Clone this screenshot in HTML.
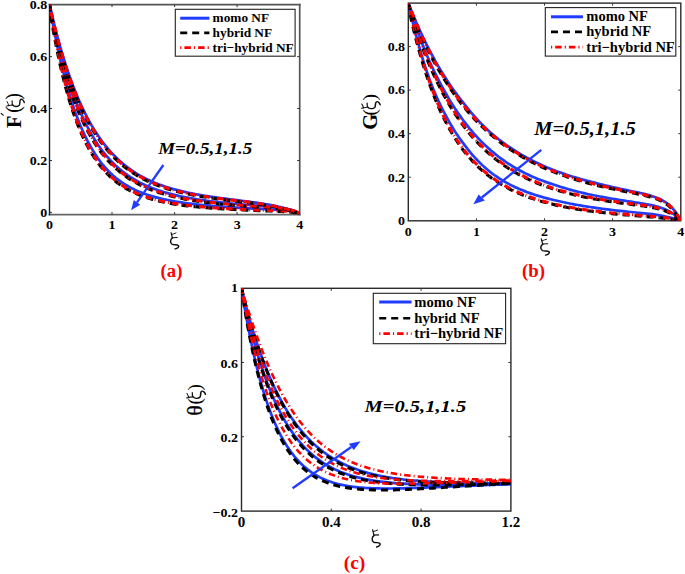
<!DOCTYPE html>
<html><head><meta charset="utf-8"><title>Figure</title>
<style>
html,body{margin:0;padding:0;background:#fff;}
body{width:685px;height:574px;overflow:hidden;}
svg{display:block;font-family:"Liberation Serif",serif;}
</style></head>
<body>
<svg width="685" height="574" viewBox="0 0 685 574">
<rect width="685" height="574" fill="#fff"/>
<g>
<defs>
<clipPath id="clipa"><rect x="49.5" y="4.5" width="250.2" height="210"/></clipPath>
<clipPath id="clipb"><rect x="408.3" y="3.1" width="272.5" height="217.7"/></clipPath>
<clipPath id="clipc"><rect x="241.5" y="288.3" width="269.4" height="222.8"/></clipPath>
</defs>
<line x1="49.5" y1="4.6" x2="299.7" y2="4.6" stroke="#555" stroke-width="1.7" stroke-linecap="square"/>
<line x1="299.7" y1="4.6" x2="299.7" y2="214.6" stroke="#555" stroke-width="1.7" stroke-linecap="square"/>
<line x1="49.5" y1="214.6" x2="299.7" y2="214.6" stroke="#666" stroke-width="1.8" stroke-linecap="square"/>
<line x1="49.5" y1="4.6" x2="49.5" y2="214.6" stroke="#1a1a1a" stroke-width="1.4" stroke-linecap="square"/>
<line x1="112.0" y1="214.6" x2="112.0" y2="212.1" stroke="#333" stroke-width="1"/>
<line x1="112.0" y1="4.6" x2="112.0" y2="7.1" stroke="#333" stroke-width="1"/>
<line x1="174.6" y1="214.6" x2="174.6" y2="212.1" stroke="#333" stroke-width="1"/>
<line x1="174.6" y1="4.6" x2="174.6" y2="7.1" stroke="#333" stroke-width="1"/>
<line x1="237.1" y1="214.6" x2="237.1" y2="212.1" stroke="#333" stroke-width="1"/>
<line x1="237.1" y1="4.6" x2="237.1" y2="7.1" stroke="#333" stroke-width="1"/>
<line x1="49.5" y1="212.4" x2="52.0" y2="212.4" stroke="#333" stroke-width="1"/>
<line x1="299.7" y1="212.4" x2="297.2" y2="212.4" stroke="#333" stroke-width="1"/>
<line x1="49.5" y1="160.5" x2="52.0" y2="160.5" stroke="#333" stroke-width="1"/>
<line x1="299.7" y1="160.5" x2="297.2" y2="160.5" stroke="#333" stroke-width="1"/>
<line x1="49.5" y1="108.5" x2="52.0" y2="108.5" stroke="#333" stroke-width="1"/>
<line x1="299.7" y1="108.5" x2="297.2" y2="108.5" stroke="#333" stroke-width="1"/>
<line x1="49.5" y1="56.6" x2="52.0" y2="56.6" stroke="#333" stroke-width="1"/>
<line x1="299.7" y1="56.6" x2="297.2" y2="56.6" stroke="#333" stroke-width="1"/>

<g clip-path="url(#clipa)">
<path d="M49.50 4.30 L49.55 4.59 L49.66 5.24 L49.81 6.17 L50.01 7.34 L50.24 8.72 L50.51 10.30 L50.82 12.06 L51.15 13.99 L51.52 16.08 L51.91 18.30 L52.34 20.66 L52.79 23.14 L53.27 25.73 L53.77 28.42 L54.31 31.21 L54.86 34.08 L55.44 37.03 L56.05 40.05 L56.68 43.13 L57.34 46.26 L58.01 49.44 L58.71 52.65 L59.44 55.90 L60.18 59.18 L60.95 62.47 L61.74 65.78 L62.55 69.10 L63.38 72.42 L64.23 75.73 L65.10 79.04 L65.99 82.34 L66.91 85.62 L67.84 88.87 L68.79 92.11 L69.76 95.31 L70.72 98.49 L71.71 101.63 L72.72 104.74 L73.74 107.80 L74.78 110.82 L75.84 113.79 L76.92 116.71 L78.01 119.58 L79.13 122.40 L80.26 125.16 L81.40 127.87 L82.56 130.53 L83.74 133.12 L84.94 135.65 L86.15 138.13 L87.38 140.54 L88.62 142.89 L89.86 145.20 L91.10 147.45 L92.37 149.63 L93.64 151.75 L94.93 153.82 L96.24 155.82 L97.56 157.77 L98.90 159.65 L100.25 161.48 L101.61 163.25 L102.99 164.97 L104.38 166.62 L105.79 168.23 L107.21 169.77 L108.64 171.27 L110.09 172.71 L111.55 174.10 L113.03 175.45 L114.52 176.74 L116.02 177.99 L117.53 179.19 L119.06 180.35 L120.61 181.46 L122.17 182.53 L123.74 183.56 L125.32 184.55 L126.91 185.52 L128.51 186.46 L130.13 187.36 L131.76 188.24 L133.40 189.07 L135.06 189.88 L136.74 190.65 L138.43 191.40 L140.14 192.11 L141.86 192.80 L143.59 193.46 L145.35 194.10 L147.11 194.71 L148.90 195.30 L150.70 195.86 L152.51 196.40 L154.34 196.92 L156.18 197.42 L158.04 197.90 L159.91 198.36 L161.80 198.81 L163.70 199.23 L165.62 199.64 L167.55 200.03 L169.50 200.41 L171.46 200.77 L173.43 201.12 L175.42 201.46 L177.42 201.79 L179.44 202.12 L181.47 202.43 L183.52 202.73 L185.57 203.02 L187.65 203.30 L189.73 203.57 L191.83 203.83 L193.95 204.08 L196.07 204.32 L198.22 204.56 L200.37 204.79 L202.54 205.01 L204.72 205.22 L206.91 205.43 L209.12 205.63 L211.34 205.82 L213.58 206.01 L215.83 206.19 L218.09 206.37 L220.36 206.54 L222.65 206.71 L224.95 206.87 L227.26 207.03 L229.58 207.19 L231.92 207.34 L234.27 207.49 L236.63 207.63 L239.01 207.77 L241.40 207.91 L243.80 208.05 L246.21 208.18 L248.64 208.31 L251.08 208.44 L253.53 208.57 L255.99 208.69 L258.46 208.82 L260.95 208.94 L263.45 209.06 L265.97 209.18 L268.49 209.30 L271.03 209.42 L273.58 209.55 L276.14 209.72 L278.71 209.93 L281.30 210.15 L283.90 210.40 L286.51 210.67 L289.13 211.00 L291.77 211.38 L294.41 211.87 L297.05 212.49 L299.70 213.30" stroke="#1f3cff" stroke-width="2.70" fill="none"/>
<path d="M49.50 4.30 L49.55 4.54 L49.65 5.07 L49.80 5.84 L50.00 6.80 L50.23 7.94 L50.49 9.25 L50.79 10.70 L51.11 12.30 L51.47 14.03 L51.86 15.88 L52.27 17.84 L52.72 19.91 L53.18 22.08 L53.68 24.34 L54.20 26.68 L54.74 29.10 L55.31 31.60 L55.90 34.15 L56.52 36.77 L57.16 39.44 L57.82 42.16 L58.51 44.93 L59.21 47.73 L59.94 50.56 L60.69 53.42 L61.46 56.31 L62.26 59.21 L63.07 62.13 L63.90 65.05 L64.75 67.99 L65.63 70.92 L66.52 73.85 L67.43 76.78 L68.37 79.70 L69.31 82.61 L70.27 85.51 L71.24 88.38 L72.24 91.24 L73.25 94.08 L74.28 96.88 L75.33 99.67 L76.39 102.42 L77.47 105.13 L78.57 107.82 L79.69 110.46 L80.83 113.07 L81.98 115.64 L83.15 118.17 L84.33 120.66 L85.53 123.11 L86.75 125.51 L87.98 127.87 L89.22 130.19 L90.47 132.46 L91.73 134.69 L93.01 136.87 L94.31 139.01 L95.62 141.09 L96.95 143.13 L98.29 145.13 L99.64 147.07 L101.02 148.97 L102.40 150.82 L103.81 152.62 L105.22 154.38 L106.65 156.09 L108.10 157.76 L109.56 159.38 L111.03 160.95 L112.52 162.48 L114.03 163.97 L115.54 165.41 L117.08 166.81 L118.62 168.17 L120.18 169.49 L121.76 170.77 L123.35 172.01 L124.95 173.21 L126.56 174.38 L128.18 175.53 L129.81 176.63 L131.46 177.70 L133.13 178.74 L134.81 179.74 L136.50 180.72 L138.21 181.66 L139.93 182.57 L141.67 183.45 L143.42 184.30 L145.18 185.12 L146.96 185.92 L148.76 186.69 L150.57 187.43 L152.39 188.15 L154.23 188.85 L156.08 189.52 L157.95 190.17 L159.83 190.80 L161.72 191.40 L163.63 191.99 L165.56 192.55 L167.50 193.10 L169.45 193.63 L171.41 194.14 L173.39 194.63 L175.39 195.11 L177.39 195.58 L179.41 196.03 L181.45 196.47 L183.49 196.89 L185.55 197.30 L187.63 197.70 L189.72 198.08 L191.82 198.45 L193.94 198.81 L196.06 199.16 L198.21 199.50 L200.36 199.82 L202.53 200.14 L204.71 200.45 L206.91 200.75 L209.12 201.04 L211.34 201.32 L213.58 201.59 L215.82 201.85 L218.09 202.11 L220.36 202.36 L222.65 202.60 L224.95 202.84 L227.26 203.07 L229.58 203.29 L231.92 203.51 L234.27 203.73 L236.64 203.93 L239.01 204.14 L241.40 204.34 L243.80 204.54 L246.21 204.73 L248.64 204.92 L251.08 205.11 L253.53 205.30 L255.99 205.48 L258.47 205.66 L260.96 205.85 L263.46 206.04 L265.97 206.23 L268.50 206.43 L271.04 206.65 L273.59 206.87 L276.16 207.15 L278.73 207.47 L281.32 207.82 L283.92 208.23 L286.53 208.72 L289.15 209.29 L291.78 209.99 L294.41 210.85 L297.06 211.93 L299.70 213.30" stroke="#1f3cff" stroke-width="2.70" fill="none"/>
<path d="M49.50 4.30 L49.55 4.51 L49.65 4.97 L49.80 5.64 L49.99 6.48 L50.21 7.47 L50.47 8.62 L50.77 9.89 L51.09 11.29 L51.44 12.80 L51.82 14.42 L52.23 16.15 L52.67 17.97 L53.13 19.88 L53.61 21.87 L54.13 23.94 L54.66 26.09 L55.22 28.30 L55.81 30.58 L56.41 32.91 L57.04 35.29 L57.70 37.73 L58.37 40.21 L59.07 42.73 L59.78 45.28 L60.52 47.87 L61.28 50.48 L62.06 53.12 L62.86 55.77 L63.69 58.45 L64.53 61.13 L65.39 63.83 L66.27 66.53 L67.17 69.24 L68.09 71.94 L69.02 74.65 L69.97 77.35 L70.94 80.04 L71.92 82.73 L72.92 85.40 L73.95 88.05 L74.99 90.69 L76.04 93.31 L77.12 95.90 L78.21 98.48 L79.32 101.02 L80.44 103.54 L81.59 106.04 L82.75 108.50 L83.93 110.93 L85.12 113.33 L86.33 115.69 L87.56 118.02 L88.79 120.32 L90.04 122.59 L91.30 124.81 L92.59 127.00 L93.88 129.15 L95.20 131.26 L96.52 133.33 L97.87 135.36 L99.23 137.36 L100.60 139.31 L101.99 141.22 L103.40 143.09 L104.82 144.91 L106.25 146.70 L107.70 148.45 L109.17 150.15 L110.65 151.82 L112.14 153.44 L113.65 155.03 L115.17 156.57 L116.71 158.08 L118.26 159.54 L119.83 160.97 L121.41 162.36 L123.01 163.71 L124.62 165.03 L126.24 166.31 L127.87 167.56 L129.52 168.78 L131.18 169.96 L132.85 171.11 L134.54 172.22 L136.25 173.30 L137.96 174.35 L139.70 175.36 L141.44 176.35 L143.20 177.31 L144.98 178.23 L146.77 179.13 L148.57 180.00 L150.39 180.84 L152.22 181.66 L154.07 182.45 L155.93 183.21 L157.80 183.95 L159.69 184.67 L161.59 185.36 L163.51 186.03 L165.44 186.68 L167.38 187.30 L169.34 187.91 L171.31 188.50 L173.29 189.06 L175.29 189.61 L177.30 190.15 L179.33 190.66 L181.37 191.17 L183.42 191.65 L185.48 192.12 L187.56 192.57 L189.65 193.02 L191.76 193.44 L193.88 193.86 L196.01 194.26 L198.16 194.65 L200.32 195.03 L202.49 195.40 L204.67 195.76 L206.87 196.11 L209.08 196.45 L211.31 196.78 L213.55 197.11 L215.80 197.43 L218.06 197.74 L220.34 198.05 L222.63 198.36 L224.93 198.66 L227.24 198.96 L229.57 199.25 L231.91 199.55 L234.26 199.84 L236.63 200.14 L239.01 200.44 L241.40 200.74 L243.80 201.04 L246.22 201.35 L248.65 201.67 L251.09 201.99 L253.54 202.33 L256.01 202.67 L258.48 203.03 L260.97 203.41 L263.48 203.80 L265.99 204.21 L268.52 204.64 L271.06 205.10 L273.61 205.59 L276.17 206.13 L278.74 206.71 L281.32 207.33 L283.92 208.00 L286.52 208.72 L289.14 209.49 L291.76 210.33 L294.40 211.24 L297.04 212.23 L299.70 213.30" stroke="#1f3cff" stroke-width="2.70" fill="none"/>
<path d="M49.50 4.30 L49.50 4.60 L49.55 5.26 L49.64 6.19 L49.78 7.37 L49.95 8.77 L50.15 10.36 L50.39 12.13 L50.66 14.07 L50.95 16.17 L51.27 18.41 L51.62 20.78 L52.00 23.28 L52.45 25.87 L52.93 28.57 L53.43 31.37 L53.96 34.25 L54.50 37.21 L55.07 40.24 L55.67 43.32 L56.28 46.47 L56.92 49.66 L57.58 52.89 L58.26 56.15 L58.97 59.44 L59.69 62.75 L60.43 66.08 L61.20 69.41 L61.98 72.75 L62.78 76.08 L63.61 79.41 L64.45 82.73 L65.31 86.04 L66.19 89.32 L67.10 92.58 L68.01 95.81 L68.95 99.02 L69.91 102.18 L70.88 105.31 L71.88 108.41 L72.89 111.45 L73.92 114.46 L74.96 117.41 L76.03 120.32 L77.11 123.18 L78.21 125.98 L79.33 128.73 L80.46 131.43 L81.61 134.07 L82.78 136.65 L83.97 139.17 L85.17 141.64 L86.39 144.05 L87.62 146.40 L88.88 148.69 L90.15 150.92 L91.43 153.09 L92.73 155.20 L94.05 157.26 L95.39 159.25 L96.74 161.19 L98.11 163.07 L99.49 164.90 L100.89 166.67 L102.30 168.38 L103.73 170.04 L105.18 171.64 L106.64 173.19 L108.12 174.69 L109.61 176.14 L111.12 177.55 L112.65 178.90 L114.19 180.20 L115.74 181.46 L117.31 182.67 L118.89 183.84 L120.49 184.96 L122.11 186.05 L123.74 187.09 L125.38 188.09 L127.04 189.06 L128.71 189.98 L130.39 190.88 L132.10 191.73 L133.81 192.55 L135.54 193.34 L137.28 194.10 L139.04 194.83 L140.81 195.53 L142.59 196.20 L144.39 196.84 L146.20 197.46 L148.03 198.05 L149.87 198.62 L151.72 199.16 L153.58 199.68 L155.46 200.18 L157.36 200.66 L159.26 201.12 L161.18 201.56 L163.11 201.98 L165.06 202.39 L167.02 202.78 L168.99 203.15 L170.98 203.51 L172.98 203.85 L174.99 204.18 L177.01 204.49 L179.05 204.80 L181.10 205.09 L183.17 205.37 L185.24 205.63 L187.33 205.89 L189.44 206.14 L191.55 206.38 L193.68 206.61 L195.82 206.83 L197.98 207.04 L200.14 207.24 L202.32 207.44 L204.52 207.63 L206.72 207.81 L208.94 207.98 L211.17 208.15 L213.41 208.32 L215.67 208.47 L217.94 208.63 L220.22 208.77 L222.51 208.91 L224.82 209.05 L227.14 209.18 L229.47 209.31 L231.81 209.44 L234.17 209.56 L236.54 209.67 L238.92 209.79 L241.31 209.90 L243.71 210.00 L246.13 210.11 L248.56 210.21 L251.00 210.30 L253.46 210.40 L255.92 210.49 L258.40 210.58 L260.89 210.67 L263.39 210.76 L265.91 210.85 L268.43 210.94 L270.97 211.03 L273.52 211.12 L276.08 211.22 L278.65 211.33 L281.23 211.46 L283.83 211.60 L286.43 211.78 L289.04 212.00 L291.65 212.28 L294.27 212.66 L296.90 213.17 L299.54 213.88" stroke="#000000" stroke-width="3.10" fill="none" stroke-dasharray="7 5" stroke-dashoffset="0"/>
<path d="M49.50 4.30 L49.55 4.59 L49.65 5.24 L49.79 6.17 L49.98 7.34 L50.20 8.73 L50.45 10.31 L50.74 12.08 L51.05 14.01 L51.40 16.10 L51.77 18.33 L52.17 20.69 L52.59 23.17 L53.04 25.77 L53.52 28.47 L54.02 31.26 L54.55 34.14 L55.09 37.10 L55.66 40.12 L56.26 43.21 L56.87 46.35 L57.51 49.54 L58.17 52.77 L58.85 56.03 L59.55 59.31 L60.27 62.62 L61.02 65.94 L61.78 69.27 L62.56 72.61 L63.37 75.94 L64.19 79.27 L65.03 82.58 L65.89 85.88 L66.77 89.16 L67.67 92.42 L68.59 95.65 L69.53 98.85 L70.48 102.01 L71.46 105.13 L72.45 108.22 L73.46 111.26 L74.48 114.26 L75.53 117.21 L76.59 120.11 L77.67 122.96 L78.77 125.76 L79.88 128.50 L81.01 131.19 L82.16 133.82 L83.33 136.40 L84.51 138.91 L85.71 141.37 L86.92 143.77 L88.15 146.11 L89.40 148.40 L90.67 150.62 L91.95 152.78 L93.24 154.88 L94.55 156.93 L95.88 158.92 L97.23 160.84 L98.59 162.71 L99.96 164.53 L101.36 166.29 L102.76 167.99 L104.18 169.64 L105.62 171.24 L107.08 172.78 L108.54 174.27 L110.03 175.71 L111.53 177.10 L113.04 178.44 L114.57 179.74 L116.11 180.99 L117.67 182.19 L119.25 183.35 L120.83 184.47 L122.44 185.55 L124.05 186.58 L125.69 187.58 L127.33 188.54 L128.99 189.46 L130.67 190.34 L132.36 191.19 L134.06 192.01 L135.78 192.80 L137.52 193.55 L139.26 194.27 L141.02 194.97 L142.80 195.63 L144.59 196.27 L146.39 196.89 L148.21 197.48 L150.04 198.04 L151.88 198.58 L153.74 199.10 L155.61 199.60 L157.50 200.08 L159.40 200.54 L161.31 200.98 L163.24 201.40 L165.18 201.80 L167.13 202.19 L169.10 202.56 L171.08 202.92 L173.08 203.26 L175.08 203.59 L177.10 203.90 L179.14 204.20 L181.19 204.49 L183.25 204.77 L185.32 205.04 L187.41 205.30 L189.51 205.54 L191.62 205.78 L193.74 206.01 L195.88 206.23 L198.03 206.44 L200.20 206.64 L202.38 206.84 L204.57 207.03 L206.77 207.21 L208.99 207.39 L211.22 207.55 L213.46 207.72 L215.71 207.87 L217.98 208.03 L220.26 208.17 L222.55 208.31 L224.85 208.45 L227.17 208.58 L229.50 208.71 L231.84 208.84 L234.20 208.96 L236.56 209.07 L238.94 209.19 L241.34 209.30 L243.74 209.40 L246.16 209.51 L248.58 209.61 L251.03 209.70 L253.48 209.80 L255.94 209.89 L258.42 209.98 L260.91 210.07 L263.41 210.16 L265.93 210.25 L268.45 210.34 L270.99 210.43 L273.54 210.52 L276.10 210.63 L278.68 210.73 L281.26 210.86 L283.86 211.00 L286.47 211.18 L289.09 211.40 L291.73 211.69 L294.37 212.07 L297.03 212.59 L299.70 213.30" stroke="#ff0000" stroke-width="3.10" fill="none" stroke-dasharray="6.5 3 1 3.1" stroke-dashoffset="5"/>
<path d="M49.50 4.30 L49.50 4.55 L49.55 5.09 L49.64 5.87 L49.78 6.84 L49.95 7.99 L50.16 9.31 L50.39 10.78 L50.66 12.39 L50.95 14.13 L51.28 16.00 L51.63 17.98 L52.01 20.06 L52.46 22.23 L52.93 24.50 L53.43 26.85 L53.96 29.27 L54.51 31.77 L55.08 34.34 L55.67 36.97 L56.29 39.65 L56.93 42.38 L57.59 45.15 L58.27 47.96 L58.97 50.80 L59.69 53.68 L60.44 56.57 L61.20 59.49 L61.98 62.42 L62.79 65.36 L63.61 68.31 L64.46 71.26 L65.32 74.21 L66.20 77.16 L67.10 80.09 L68.02 83.02 L68.96 85.93 L69.91 88.83 L70.89 91.71 L71.88 94.56 L72.89 97.39 L73.92 100.19 L74.97 102.96 L76.03 105.70 L77.11 108.41 L78.21 111.08 L79.33 113.72 L80.46 116.32 L81.61 118.87 L82.78 121.39 L83.97 123.87 L85.17 126.30 L86.39 128.69 L87.62 131.04 L88.88 133.34 L90.14 135.60 L91.43 137.81 L92.73 139.97 L94.05 142.09 L95.38 144.16 L96.73 146.18 L98.10 148.16 L99.48 150.09 L100.88 151.97 L102.29 153.81 L103.72 155.60 L105.16 157.35 L106.62 159.05 L108.10 160.70 L109.59 162.31 L111.10 163.88 L112.62 165.40 L114.16 166.88 L115.71 168.32 L117.28 169.71 L118.86 171.07 L120.46 172.38 L122.07 173.66 L123.70 174.89 L125.34 176.09 L126.99 177.25 L128.66 178.37 L130.35 179.46 L132.05 180.52 L133.76 181.53 L135.49 182.52 L137.23 183.47 L138.99 184.40 L140.76 185.29 L142.54 186.15 L144.34 186.98 L146.15 187.79 L147.98 188.56 L149.82 189.31 L151.67 190.04 L153.54 190.74 L155.41 191.41 L157.31 192.07 L159.22 192.70 L161.14 193.30 L163.07 193.89 L165.02 194.46 L166.98 195.00 L168.95 195.53 L170.94 196.04 L172.94 196.53 L174.95 197.00 L176.97 197.46 L179.01 197.90 L181.07 198.33 L183.13 198.74 L185.21 199.14 L187.30 199.52 L189.40 199.90 L191.52 200.25 L193.65 200.60 L195.79 200.94 L197.95 201.26 L200.12 201.57 L202.30 201.87 L204.49 202.17 L206.70 202.45 L208.91 202.73 L211.15 202.99 L213.39 203.25 L215.65 203.50 L217.92 203.74 L220.20 203.97 L222.49 204.20 L224.80 204.42 L227.12 204.64 L229.45 204.84 L231.79 205.05 L234.15 205.24 L236.52 205.43 L238.90 205.62 L241.29 205.80 L243.70 205.98 L246.11 206.16 L248.54 206.33 L250.98 206.49 L253.44 206.66 L255.90 206.83 L258.38 206.99 L260.87 207.16 L263.37 207.33 L265.89 207.50 L268.41 207.68 L270.94 207.87 L273.49 208.08 L276.05 208.31 L278.61 208.56 L281.19 208.86 L283.77 209.20 L286.37 209.62 L288.97 210.13 L291.57 210.75 L294.18 211.54 L296.79 212.54 L299.44 213.84" stroke="#000000" stroke-width="3.10" fill="none" stroke-dasharray="7 5" stroke-dashoffset="0"/>
<path d="M49.50 4.30 L49.55 4.54 L49.65 5.07 L49.79 5.84 L49.98 6.80 L50.20 7.95 L50.45 9.25 L50.74 10.71 L51.05 12.31 L51.40 14.04 L51.77 15.90 L52.17 17.86 L52.59 19.94 L53.04 22.11 L53.52 24.37 L54.02 26.72 L54.55 29.15 L55.09 31.64 L55.66 34.21 L56.26 36.83 L56.87 39.51 L57.51 42.24 L58.17 45.01 L58.85 47.82 L59.55 50.66 L60.27 53.53 L61.02 56.42 L61.78 59.34 L62.56 62.26 L63.37 65.20 L64.19 68.15 L65.03 71.09 L65.89 74.04 L66.77 76.98 L67.67 79.92 L68.59 82.84 L69.53 85.75 L70.48 88.64 L71.46 91.51 L72.45 94.36 L73.46 97.18 L74.48 99.98 L75.53 102.75 L76.59 105.48 L77.67 108.18 L78.77 110.85 L79.88 113.48 L81.01 116.07 L82.16 118.63 L83.33 121.14 L84.51 123.61 L85.71 126.03 L86.92 128.42 L88.15 130.76 L89.40 133.05 L90.67 135.30 L91.95 137.50 L93.24 139.66 L94.55 141.77 L95.88 143.83 L97.23 145.85 L98.59 147.81 L99.96 149.74 L101.36 151.61 L102.76 153.44 L104.18 155.22 L105.62 156.96 L107.08 158.65 L108.54 160.30 L110.03 161.90 L111.53 163.46 L113.04 164.97 L114.57 166.44 L116.11 167.87 L117.67 169.26 L119.25 170.61 L120.83 171.91 L122.44 173.18 L124.05 174.41 L125.69 175.60 L127.33 176.76 L128.99 177.87 L130.67 178.95 L132.36 180.00 L134.06 181.02 L135.78 182.00 L137.52 182.95 L139.26 183.86 L141.02 184.75 L142.80 185.61 L144.59 186.44 L146.39 187.24 L148.21 188.01 L150.04 188.76 L151.88 189.48 L153.74 190.17 L155.61 190.85 L157.50 191.50 L159.40 192.12 L161.31 192.73 L163.24 193.31 L165.18 193.88 L167.13 194.42 L169.10 194.95 L171.08 195.46 L173.08 195.95 L175.08 196.42 L177.10 196.88 L179.14 197.32 L181.19 197.74 L183.25 198.15 L185.32 198.55 L187.41 198.93 L189.51 199.30 L191.62 199.66 L193.74 200.01 L195.88 200.34 L198.03 200.67 L200.20 200.98 L202.38 201.28 L204.57 201.57 L206.77 201.86 L208.99 202.13 L211.22 202.40 L213.46 202.65 L215.71 202.90 L217.98 203.14 L220.26 203.38 L222.55 203.60 L224.85 203.82 L227.17 204.04 L229.50 204.25 L231.84 204.45 L234.20 204.64 L236.56 204.84 L238.94 205.02 L241.34 205.20 L243.74 205.38 L246.16 205.56 L248.58 205.73 L251.03 205.90 L253.48 206.06 L255.94 206.23 L258.42 206.39 L260.91 206.56 L263.41 206.73 L265.93 206.90 L268.45 207.08 L270.99 207.27 L273.54 207.48 L276.10 207.71 L278.68 207.97 L281.26 208.26 L283.86 208.61 L286.47 209.03 L289.09 209.54 L291.73 210.17 L294.37 210.97 L297.03 211.99 L299.70 213.30" stroke="#ff0000" stroke-width="3.10" fill="none" stroke-dasharray="6.5 3 1 3.1" stroke-dashoffset="5"/>
<path d="M49.50 4.30 L49.50 4.52 L49.55 5.00 L49.65 5.67 L49.78 6.52 L49.95 7.53 L50.16 8.69 L50.39 9.97 L50.66 11.38 L50.96 12.91 L51.28 14.55 L51.63 16.29 L52.01 18.12 L52.46 20.04 L52.94 22.03 L53.44 24.11 L53.96 26.26 L54.51 28.48 L55.08 30.76 L55.68 33.10 L56.29 35.49 L56.93 37.93 L57.59 40.42 L58.27 42.94 L58.97 45.50 L59.70 48.10 L60.44 50.72 L61.20 53.37 L61.99 56.03 L62.79 58.72 L63.62 61.41 L64.46 64.12 L65.32 66.84 L66.20 69.55 L67.10 72.27 L68.02 74.99 L68.96 77.70 L69.92 80.41 L70.89 83.10 L71.88 85.79 L72.90 88.45 L73.92 91.11 L74.97 93.74 L76.04 96.35 L77.12 98.94 L78.22 101.50 L79.33 104.04 L80.47 106.55 L81.62 109.03 L82.79 111.48 L83.97 113.90 L85.17 116.29 L86.39 118.64 L87.63 120.95 L88.88 123.23 L90.14 125.48 L91.43 127.68 L92.73 129.85 L94.05 131.98 L95.38 134.07 L96.73 136.13 L98.09 138.14 L99.47 140.11 L100.87 142.04 L102.28 143.93 L103.71 145.78 L105.16 147.59 L106.62 149.36 L108.09 151.09 L109.58 152.77 L111.09 154.42 L112.61 156.03 L114.14 157.60 L115.70 159.13 L117.26 160.62 L118.84 162.07 L120.44 163.48 L122.05 164.86 L123.68 166.19 L125.32 167.49 L126.97 168.76 L128.64 169.99 L130.33 171.18 L132.03 172.34 L133.74 173.47 L135.47 174.56 L137.21 175.62 L138.96 176.64 L140.73 177.64 L142.52 178.60 L144.32 179.54 L146.13 180.44 L147.95 181.32 L149.79 182.17 L151.64 182.99 L153.51 183.78 L155.39 184.55 L157.28 185.30 L159.19 186.02 L161.11 186.71 L163.05 187.38 L164.99 188.03 L166.95 188.66 L168.93 189.27 L170.92 189.86 L172.92 190.42 L174.93 190.97 L176.96 191.50 L178.99 192.01 L181.05 192.51 L183.11 192.99 L185.19 193.45 L187.28 193.90 L189.39 194.33 L191.50 194.76 L193.63 195.16 L195.78 195.56 L197.93 195.94 L200.10 196.31 L202.28 196.67 L204.47 197.02 L206.68 197.37 L208.90 197.70 L211.13 198.02 L213.37 198.34 L215.63 198.65 L217.90 198.96 L220.18 199.26 L222.47 199.55 L224.78 199.84 L227.10 200.13 L229.43 200.42 L231.77 200.70 L234.13 200.99 L236.49 201.27 L238.87 201.56 L241.26 201.85 L243.67 202.14 L246.08 202.44 L248.51 202.75 L250.95 203.06 L253.40 203.38 L255.86 203.71 L258.34 204.06 L260.82 204.42 L263.32 204.80 L265.83 205.20 L268.35 205.62 L270.88 206.07 L273.43 206.54 L275.98 207.05 L278.55 207.59 L281.13 208.17 L283.72 208.80 L286.32 209.48 L288.93 210.21 L291.55 211.01 L294.18 211.88 L296.82 212.82 L299.48 213.86" stroke="#000000" stroke-width="3.10" fill="none" stroke-dasharray="7 5" stroke-dashoffset="0"/>
<path d="M49.50 4.30 L49.55 4.51 L49.65 4.97 L49.79 5.64 L49.98 6.48 L50.20 7.48 L50.45 8.62 L50.74 9.90 L51.05 11.30 L51.40 12.81 L51.77 14.44 L52.17 16.16 L52.59 17.99 L53.04 19.90 L53.52 21.90 L54.02 23.97 L54.55 26.12 L55.09 28.33 L55.66 30.61 L56.26 32.95 L56.87 35.34 L57.51 37.78 L58.17 40.26 L58.85 42.78 L59.55 45.34 L60.27 47.94 L61.02 50.55 L61.78 53.20 L62.56 55.86 L63.37 58.54 L64.19 61.24 L65.03 63.94 L65.89 66.65 L66.77 69.37 L67.67 72.08 L68.59 74.80 L69.53 77.50 L70.48 80.21 L71.46 82.90 L72.45 85.58 L73.46 88.24 L74.48 90.89 L75.53 93.51 L76.59 96.12 L77.67 98.70 L78.77 101.26 L79.88 103.80 L81.01 106.30 L82.16 108.78 L83.33 111.22 L84.51 113.63 L85.71 116.01 L86.92 118.36 L88.15 120.67 L89.40 122.94 L90.67 125.18 L91.95 127.38 L93.24 129.54 L94.55 131.66 L95.88 133.75 L97.23 135.79 L98.59 137.80 L99.96 139.76 L101.36 141.68 L102.76 143.57 L104.18 145.41 L105.62 147.21 L107.08 148.97 L108.54 150.69 L110.03 152.37 L111.53 154.01 L113.04 155.61 L114.57 157.17 L116.11 158.70 L117.67 160.18 L119.25 161.62 L120.83 163.03 L122.44 164.40 L124.05 165.73 L125.69 167.02 L127.33 168.28 L128.99 169.50 L130.67 170.69 L132.36 171.84 L134.06 172.96 L135.78 174.05 L137.52 175.10 L139.26 176.12 L141.02 177.11 L142.80 178.07 L144.59 179.00 L146.39 179.90 L148.21 180.78 L150.04 181.62 L151.88 182.44 L153.74 183.23 L155.61 184.00 L157.50 184.74 L159.40 185.45 L161.31 186.15 L163.24 186.82 L165.18 187.46 L167.13 188.09 L169.10 188.69 L171.08 189.28 L173.08 189.85 L175.08 190.39 L177.10 190.92 L179.14 191.43 L181.19 191.93 L183.25 192.40 L185.32 192.87 L187.41 193.31 L189.51 193.75 L191.62 194.17 L193.74 194.57 L195.88 194.97 L198.03 195.35 L200.20 195.72 L202.38 196.08 L204.57 196.43 L206.77 196.77 L208.99 197.10 L211.22 197.43 L213.46 197.75 L215.71 198.06 L217.98 198.36 L220.26 198.66 L222.55 198.96 L224.85 199.25 L227.17 199.54 L229.50 199.82 L231.84 200.11 L234.20 200.39 L236.56 200.68 L238.94 200.96 L241.34 201.25 L243.74 201.55 L246.16 201.84 L248.58 202.15 L251.03 202.46 L253.48 202.79 L255.94 203.12 L258.42 203.47 L260.91 203.83 L263.41 204.21 L265.93 204.61 L268.45 205.03 L270.99 205.47 L273.54 205.95 L276.10 206.46 L278.68 207.00 L281.26 207.59 L283.86 208.22 L286.47 208.90 L289.09 209.64 L291.73 210.44 L294.37 211.31 L297.03 212.26 L299.70 213.30" stroke="#ff0000" stroke-width="3.10" fill="none" stroke-dasharray="6.5 3 1 3.1" stroke-dashoffset="5"/>
</g>

<rect x="175.3" y="9.3" width="119.8" height="46.9" fill="#fff" stroke="#222" stroke-width="1.1"/>
<line x1="180.2" y1="18.2" x2="209.4" y2="18.2" stroke="#1f3cff" stroke-width="3"/>
<line x1="180.2" y1="32.9" x2="209.4" y2="32.9" stroke="#000000" stroke-width="2.6" stroke-dasharray="7 5"/>
<line x1="180.2" y1="47.6" x2="209.4" y2="47.6" stroke="#ff0000" stroke-width="2.6" stroke-dasharray="1.2 3 6.5 3"/>
<text x="212.6" y="22.2" font-size="13.3" font-weight="bold">momo NF</text>
<text x="212.6" y="36.9" font-size="13.3" font-weight="bold">hybrid NF</text>
<text x="212.6" y="51.6" font-size="13.3" font-weight="bold">tri−hybrid NF</text>

<text transform="translate(47.20 216.80) scale(1.050 1)" font-size="13.30" font-weight="bold" font-style="normal" text-anchor="end" fill="#000" >0</text>

<text transform="translate(47.20 164.86) scale(1.050 1)" font-size="13.30" font-weight="bold" font-style="normal" text-anchor="end" fill="#000" >0.2</text>

<text transform="translate(47.20 112.92) scale(1.050 1)" font-size="13.30" font-weight="bold" font-style="normal" text-anchor="end" fill="#000" >0.4</text>

<text transform="translate(47.20 60.98) scale(1.050 1)" font-size="13.30" font-weight="bold" font-style="normal" text-anchor="end" fill="#000" >0.6</text>

<text transform="translate(47.20 9.04) scale(1.050 1)" font-size="13.30" font-weight="bold" font-style="normal" text-anchor="end" fill="#000" >0.8</text>

<text transform="translate(49.50 228.90) scale(1.050 1)" font-size="13.30" font-weight="bold" font-style="normal" text-anchor="middle" fill="#000" >0</text>

<text transform="translate(112.05 228.90) scale(1.050 1)" font-size="13.30" font-weight="bold" font-style="normal" text-anchor="middle" fill="#000" >1</text>

<text transform="translate(174.60 228.90) scale(1.050 1)" font-size="13.30" font-weight="bold" font-style="normal" text-anchor="middle" fill="#000" >2</text>

<text transform="translate(237.15 228.90) scale(1.050 1)" font-size="13.30" font-weight="bold" font-style="normal" text-anchor="middle" fill="#000" >3</text>

<text transform="translate(299.70 228.90) scale(1.050 1)" font-size="13.30" font-weight="bold" font-style="normal" text-anchor="middle" fill="#000" >4</text>

<g transform="translate(170.00 232.00) scale(1.020 0.930)" fill="none" stroke="#111" stroke-linecap="round"><path d="M1.0 0.7 C1.5 2.5 1.9 4.4 2.3 6.0" stroke-width="1.15"/><path d="M1.6 2.6 C3.0 2.4 4.6 1.7 6.0 1.0" stroke-width="1.0"/><path d="M2.0 6.2 L7.0 6.0" stroke-width="1.15"/><path d="M2.5 6.6 C0.2 7.6 -0.2 11.6 2.0 13.2 C3.6 14.3 7.0 13.1 8.3 14.6 C9.3 15.9 7.4 17.6 5.0 18.2" stroke-width="1.45"/></g>

<text transform="translate(171.50 277.10) scale(1.030 1)" font-size="18.20" font-weight="bold" font-style="normal" text-anchor="middle" fill="#ff0000" >(a)</text>

<text transform="translate(20.90 128.05) rotate(-90)" font-size="20.40" font-weight="bold" >F</text>

<line x1="1.1" y1="113.4" x2="3.3" y2="115.2" stroke="#111" stroke-width="1.1" stroke-linecap="round"/>

<text transform="translate(20.33 112.68) rotate(-90)" font-size="20.00" font-weight="normal" >(</text>

<text transform="translate(20.33 99.70) rotate(-90)" font-size="20.00" font-weight="normal" >)</text>

<g transform="translate(6.10 107.00) rotate(-90) scale(0.900 1.000)"><g transform="translate(0.00 0.00) scale(1.000 1.000)" fill="none" stroke="#111" stroke-linecap="round"><path d="M1.0 0.7 C1.5 2.5 1.9 4.4 2.3 6.0" stroke-width="1.15"/><path d="M1.6 2.6 C3.0 2.4 4.6 1.7 6.0 1.0" stroke-width="1.0"/><path d="M2.0 6.2 L7.0 6.0" stroke-width="1.15"/><path d="M2.5 6.6 C0.2 7.6 -0.2 11.6 2.0 13.2 C3.6 14.3 7.0 13.1 8.3 14.6 C9.3 15.9 7.4 17.6 5.0 18.2" stroke-width="1.45"/></g>
</g>

<text x="158.20" y="154.10" font-size="17.70" font-weight="bold" font-style="italic" text-anchor="start" fill="#000" textLength="94" lengthAdjust="spacingAndGlyphs">M=0.5,1,1.5</text>

<line x1="163.4" y1="165.0" x2="137.0" y2="202.4" stroke="#1f3cff" stroke-width="2.3"/>
<polygon points="131.1,210.2 133.8,200.1 140.2,204.7" fill="#1f3cff"/>

<rect x="408.3" y="3.1" width="272.5" height="217.7" fill="none" stroke="#2a2a2a" stroke-width="1.4"/>
<line x1="476.4" y1="220.8" x2="476.4" y2="218.3" stroke="#333" stroke-width="1"/>
<line x1="476.4" y1="3.1" x2="476.4" y2="5.6" stroke="#333" stroke-width="1"/>
<line x1="544.5" y1="220.8" x2="544.5" y2="218.3" stroke="#333" stroke-width="1"/>
<line x1="544.5" y1="3.1" x2="544.5" y2="5.6" stroke="#333" stroke-width="1"/>
<line x1="612.6" y1="220.8" x2="612.6" y2="218.3" stroke="#333" stroke-width="1"/>
<line x1="612.6" y1="3.1" x2="612.6" y2="5.6" stroke="#333" stroke-width="1"/>
<line x1="408.3" y1="177.2" x2="410.8" y2="177.2" stroke="#333" stroke-width="1"/>
<line x1="680.8" y1="177.2" x2="678.3" y2="177.2" stroke="#333" stroke-width="1"/>
<line x1="408.3" y1="133.7" x2="410.8" y2="133.7" stroke="#333" stroke-width="1"/>
<line x1="680.8" y1="133.7" x2="678.3" y2="133.7" stroke="#333" stroke-width="1"/>
<line x1="408.3" y1="90.1" x2="410.8" y2="90.1" stroke="#333" stroke-width="1"/>
<line x1="680.8" y1="90.1" x2="678.3" y2="90.1" stroke="#333" stroke-width="1"/>
<line x1="408.3" y1="46.6" x2="410.8" y2="46.6" stroke="#333" stroke-width="1"/>
<line x1="680.8" y1="46.6" x2="678.3" y2="46.6" stroke="#333" stroke-width="1"/>

<g clip-path="url(#clipb)">
<path d="M408.30 3.00 L408.35 3.23 L408.47 3.76 L408.63 4.51 L408.84 5.45 L409.09 6.57 L409.38 7.85 L409.70 9.28 L410.06 10.85 L410.44 12.55 L410.87 14.36 L411.32 16.29 L411.80 18.32 L412.31 20.45 L412.84 22.68 L413.41 24.98 L414.00 27.36 L414.62 29.82 L415.27 32.34 L415.94 34.92 L416.63 37.55 L417.35 40.23 L418.10 42.96 L418.87 45.73 L419.66 48.53 L420.47 51.36 L421.31 54.21 L422.17 57.09 L423.06 59.98 L423.96 62.88 L424.89 65.79 L425.84 68.71 L426.81 71.63 L427.81 74.54 L428.82 77.45 L429.87 80.35 L430.97 83.22 L432.10 86.08 L433.24 88.91 L434.40 91.73 L435.59 94.52 L436.80 97.29 L438.03 100.02 L439.29 102.73 L440.56 105.40 L441.85 108.03 L443.17 110.63 L444.50 113.20 L445.85 115.72 L447.22 118.21 L448.58 120.66 L449.94 123.08 L451.31 125.46 L452.71 127.80 L454.12 130.10 L455.54 132.35 L456.99 134.55 L458.45 136.71 L459.92 138.83 L461.41 140.89 L462.92 142.92 L464.44 144.89 L465.96 146.84 L467.43 148.78 L468.93 150.68 L470.44 152.53 L471.96 154.34 L473.50 156.11 L475.06 157.84 L476.63 159.53 L478.22 161.18 L479.82 162.78 L481.44 164.35 L483.07 165.88 L484.72 167.37 L486.39 168.82 L488.07 170.23 L489.76 171.61 L491.48 172.95 L493.21 174.25 L494.97 175.50 L496.74 176.72 L498.52 177.91 L500.32 179.06 L502.14 180.18 L503.97 181.27 L505.82 182.33 L507.68 183.36 L509.56 184.36 L511.45 185.33 L513.36 186.27 L515.28 187.19 L517.22 188.08 L519.18 188.94 L521.15 189.78 L523.14 190.59 L525.14 191.38 L527.16 192.14 L529.19 192.89 L531.24 193.61 L533.30 194.31 L535.38 194.98 L537.47 195.64 L539.58 196.28 L541.71 196.90 L543.85 197.50 L546.01 198.08 L548.18 198.64 L550.36 199.19 L552.56 199.72 L554.78 200.23 L557.01 200.76 L559.24 201.28 L561.49 201.80 L563.76 202.30 L566.05 202.78 L568.34 203.26 L570.66 203.72 L572.99 204.16 L575.33 204.60 L577.69 205.02 L580.06 205.44 L582.45 205.84 L584.86 206.23 L587.28 206.61 L589.71 206.98 L592.16 207.34 L594.62 207.70 L597.09 208.05 L599.58 208.40 L602.09 208.74 L604.61 209.07 L607.14 209.39 L609.69 209.70 L612.25 210.01 L614.83 210.31 L617.42 210.61 L620.03 210.90 L622.65 211.18 L625.28 211.45 L627.93 211.73 L630.59 212.00 L633.27 212.26 L635.96 212.53 L638.67 212.79 L641.39 213.06 L644.12 213.32 L646.87 213.60 L649.64 213.87 L652.42 214.16 L655.20 214.56 L658.00 215.06 L660.81 215.58 L663.63 216.14 L666.46 216.73 L669.30 217.38 L672.15 218.09 L675.00 218.88 L677.85 219.78 L680.70 220.80" stroke="#1f3cff" stroke-width="2.70" fill="none"/>
<path d="M408.30 3.00 L408.35 3.17 L408.47 3.54 L408.63 4.08 L408.84 4.75 L409.09 5.55 L409.38 6.47 L409.70 7.50 L410.05 8.63 L410.44 9.86 L410.86 11.17 L411.31 12.57 L411.79 14.06 L412.30 15.62 L412.84 17.25 L413.41 18.95 L414.00 20.71 L414.62 22.54 L415.26 24.42 L415.93 26.35 L416.63 28.34 L417.34 30.37 L418.09 32.45 L418.86 34.56 L419.65 36.71 L420.46 38.90 L421.30 41.12 L422.16 43.37 L423.04 45.65 L423.95 47.94 L424.88 50.26 L425.83 52.60 L426.80 54.95 L427.79 57.32 L428.80 59.69 L429.85 62.07 L430.93 64.45 L432.04 66.83 L433.17 69.21 L434.32 71.59 L435.49 73.97 L436.67 76.35 L437.88 78.72 L439.11 81.08 L440.36 83.43 L441.63 85.77 L442.91 88.09 L444.21 90.41 L445.49 92.72 L446.79 95.02 L448.11 97.31 L449.44 99.57 L450.79 101.82 L452.16 104.04 L453.55 106.24 L454.96 108.42 L456.38 110.57 L457.82 112.70 L459.27 114.80 L460.74 116.87 L462.23 118.92 L463.74 120.94 L465.26 122.94 L466.77 124.91 L468.31 126.86 L469.86 128.78 L471.43 130.66 L473.01 132.52 L474.61 134.35 L476.22 136.14 L477.85 137.91 L479.50 139.64 L481.16 141.34 L482.84 143.01 L484.53 144.65 L486.23 146.26 L487.95 147.84 L489.69 149.38 L491.44 150.90 L493.20 152.39 L494.97 153.85 L496.75 155.28 L498.56 156.69 L500.37 158.06 L502.20 159.41 L504.05 160.72 L505.91 162.01 L507.78 163.26 L509.67 164.49 L511.58 165.69 L513.50 166.86 L515.43 168.01 L517.38 169.12 L519.34 170.21 L521.32 171.28 L523.32 172.31 L525.33 173.33 L527.35 174.31 L529.39 175.28 L531.44 176.21 L533.51 177.13 L535.59 178.02 L537.69 178.88 L539.80 179.73 L541.93 180.55 L544.07 181.35 L546.23 182.13 L548.40 182.89 L550.59 183.63 L552.79 184.34 L555.01 185.04 L557.22 185.76 L559.45 186.49 L561.69 187.20 L563.95 187.89 L566.22 188.56 L568.51 189.22 L570.81 189.86 L573.13 190.49 L575.47 191.10 L577.82 191.70 L580.19 192.28 L582.57 192.85 L584.96 193.40 L587.37 193.95 L589.80 194.47 L592.24 194.99 L594.70 195.50 L597.17 195.99 L599.65 196.47 L602.15 196.94 L604.67 197.41 L607.20 197.86 L609.74 198.30 L612.30 198.74 L614.88 199.16 L617.47 199.58 L620.07 200.00 L622.69 200.41 L625.32 200.82 L627.97 201.23 L630.63 201.64 L633.30 202.05 L636.00 202.47 L638.71 202.89 L641.43 203.33 L644.17 203.79 L646.93 204.28 L649.70 204.80 L652.49 205.37 L655.29 206.05 L658.10 206.84 L660.91 207.74 L663.74 208.77 L666.58 209.97 L669.42 211.40 L672.25 213.11 L675.08 215.17 L677.90 217.69 L680.70 220.80" stroke="#1f3cff" stroke-width="2.70" fill="none"/>
<path d="M408.30 3.00 L408.35 3.13 L408.46 3.42 L408.63 3.84 L408.83 4.37 L409.08 4.99 L409.37 5.71 L409.68 6.52 L410.04 7.40 L410.42 8.37 L410.84 9.40 L411.28 10.50 L411.76 11.67 L412.26 12.90 L412.80 14.19 L413.36 15.54 L413.94 16.93 L414.56 18.38 L415.19 19.88 L415.86 21.42 L416.54 23.01 L417.26 24.63 L417.99 26.30 L418.75 28.00 L419.54 29.74 L420.35 31.50 L421.18 33.30 L422.03 35.13 L422.90 36.98 L423.80 38.85 L424.72 40.75 L425.66 42.67 L426.62 44.60 L427.60 46.55 L428.61 48.52 L429.63 50.50 L430.67 52.49 L431.74 54.50 L432.82 56.51 L433.93 58.52 L435.05 60.55 L436.20 62.57 L437.36 64.60 L438.55 66.63 L439.75 68.66 L440.97 70.69 L442.21 72.72 L443.47 74.74 L444.73 76.76 L446.02 78.78 L447.32 80.79 L448.64 82.79 L449.98 84.79 L451.34 86.77 L452.72 88.74 L454.11 90.70 L455.52 92.65 L456.95 94.59 L458.39 96.51 L459.85 98.41 L461.33 100.30 L462.83 102.18 L464.32 104.05 L465.79 105.94 L467.28 107.81 L468.79 109.66 L470.31 111.50 L471.85 113.32 L473.41 115.12 L474.98 116.90 L476.57 118.66 L478.17 120.40 L479.80 122.13 L481.43 123.83 L483.09 125.52 L484.76 127.18 L486.45 128.83 L488.16 130.45 L489.88 132.05 L491.64 133.60 L493.44 135.11 L495.25 136.60 L497.07 138.07 L498.91 139.51 L500.77 140.94 L502.64 142.34 L504.53 143.71 L506.43 145.07 L508.35 146.40 L510.28 147.71 L512.23 149.00 L514.19 150.26 L516.17 151.51 L518.16 152.73 L520.17 153.93 L522.19 155.11 L524.23 156.27 L526.28 157.40 L528.35 158.52 L530.43 159.61 L532.52 160.69 L534.63 161.74 L536.76 162.77 L538.90 163.78 L541.05 164.78 L543.22 165.75 L545.40 166.71 L547.60 167.64 L549.81 168.56 L552.04 169.46 L554.28 170.34 L556.53 171.19 L558.81 172.03 L561.09 172.84 L563.39 173.64 L565.71 174.43 L568.03 175.19 L570.38 175.95 L572.73 176.68 L575.10 177.40 L577.48 178.10 L579.88 178.79 L582.29 179.46 L584.72 180.12 L587.16 180.76 L589.61 181.40 L592.07 182.01 L594.54 182.67 L597.02 183.32 L599.51 183.96 L602.02 184.59 L604.54 185.21 L607.08 185.82 L609.63 186.42 L612.19 187.01 L614.77 187.59 L617.36 188.16 L619.97 188.73 L622.59 189.29 L625.23 189.84 L627.88 190.39 L630.55 190.95 L633.23 191.51 L635.92 192.09 L638.63 192.68 L641.35 193.29 L644.09 193.93 L646.85 194.63 L649.61 195.38 L652.40 196.21 L655.20 197.16 L658.00 198.27 L660.82 199.55 L663.64 201.07 L666.48 202.89 L669.32 205.10 L672.16 207.82 L675.00 211.20 L677.85 215.44 L680.70 220.80" stroke="#1f3cff" stroke-width="2.70" fill="none"/>
<path d="M408.30 3.00 L408.29 3.25 L408.35 3.78 L408.45 4.55 L408.59 5.50 L408.77 6.64 L408.99 7.93 L409.25 9.38 L409.53 10.96 L409.85 12.68 L410.20 14.51 L410.58 16.46 L410.99 18.51 L411.48 20.65 L412.00 22.87 L412.54 25.19 L413.11 27.58 L413.71 30.04 L414.33 32.57 L414.98 35.16 L415.65 37.80 L416.34 40.50 L417.06 43.23 L417.80 46.01 L418.57 48.83 L419.36 51.67 L420.17 54.54 L421.00 57.43 L421.85 60.34 L422.73 63.26 L423.62 66.19 L424.54 69.12 L425.48 72.06 L426.44 74.99 L427.42 77.93 L428.42 80.85 L429.44 83.76 L430.49 86.66 L431.55 89.54 L432.63 92.41 L433.73 95.25 L434.85 98.07 L435.99 100.87 L437.15 103.63 L438.33 106.37 L439.52 109.08 L440.74 111.75 L441.98 114.39 L443.23 117.00 L444.50 119.57 L445.79 122.10 L447.10 124.60 L448.43 127.05 L449.77 129.46 L451.14 131.84 L452.52 134.17 L453.92 136.46 L455.33 138.71 L456.77 140.91 L458.22 143.07 L459.69 145.19 L461.18 147.27 L462.68 149.30 L464.20 151.29 L465.74 153.24 L467.30 155.14 L468.87 157.00 L470.46 158.82 L472.07 160.60 L473.69 162.33 L475.33 164.02 L476.99 165.67 L478.66 167.29 L480.35 168.86 L482.06 170.39 L483.78 171.88 L485.52 173.33 L487.27 174.75 L489.04 176.13 L490.83 177.47 L492.63 178.78 L494.45 180.05 L496.29 181.29 L498.14 182.49 L500.00 183.66 L501.88 184.79 L503.78 185.90 L505.69 186.97 L507.62 188.01 L509.56 189.03 L511.51 190.01 L513.49 190.97 L515.47 191.89 L517.48 192.80 L519.49 193.67 L521.53 194.52 L523.57 195.34 L525.63 196.14 L527.71 196.92 L529.80 197.67 L531.91 198.40 L534.03 199.11 L536.16 199.80 L538.31 200.46 L540.47 201.11 L542.65 201.74 L544.84 202.35 L547.05 202.94 L549.27 203.51 L551.50 204.06 L553.75 204.60 L556.02 205.13 L558.29 205.63 L560.58 206.12 L562.89 206.60 L565.21 207.06 L567.54 207.51 L569.89 207.94 L572.25 208.36 L574.62 208.77 L577.01 209.17 L579.42 209.55 L581.83 209.93 L584.26 210.29 L586.71 210.64 L589.16 210.98 L591.64 211.31 L594.12 211.63 L596.62 211.94 L599.13 212.24 L601.66 212.54 L604.19 212.82 L606.75 213.10 L609.31 213.37 L611.89 213.63 L614.49 213.88 L617.09 214.13 L619.71 214.37 L622.34 214.61 L624.99 214.84 L627.65 215.07 L630.32 215.29 L633.00 215.51 L635.70 215.73 L638.41 215.95 L641.14 216.16 L643.87 216.38 L646.62 216.61 L649.39 216.83 L652.16 217.07 L654.94 217.33 L657.74 217.60 L660.55 217.89 L663.37 218.22 L666.20 218.58 L669.04 218.99 L671.90 219.47 L674.76 220.03 L677.62 220.68 L680.52 221.48" stroke="#000000" stroke-width="3.10" fill="none" stroke-dasharray="7 5" stroke-dashoffset="0"/>
<path d="M408.30 3.00 L408.35 3.23 L408.46 3.76 L408.62 4.51 L408.82 5.45 L409.06 6.58 L409.34 7.86 L409.65 9.29 L409.99 10.86 L410.37 12.56 L410.77 14.38 L411.21 16.32 L411.67 18.35 L412.16 20.49 L412.68 22.71 L413.22 25.02 L413.79 27.41 L414.39 29.87 L415.01 32.40 L415.66 34.99 L416.33 37.63 L417.02 40.32 L417.74 43.06 L418.48 45.83 L419.24 48.64 L420.03 51.48 L420.84 54.35 L421.67 57.23 L422.52 60.14 L423.40 63.05 L424.29 65.98 L425.21 68.91 L426.15 71.84 L427.11 74.77 L428.09 77.70 L429.08 80.62 L430.10 83.53 L431.14 86.42 L432.20 89.30 L433.28 92.16 L434.38 95.00 L435.50 97.81 L436.64 100.60 L437.79 103.36 L438.97 106.09 L440.16 108.79 L441.38 111.46 L442.61 114.09 L443.86 116.69 L445.13 119.26 L446.41 121.78 L447.72 124.27 L449.04 126.71 L450.38 129.12 L451.74 131.48 L453.12 133.81 L454.51 136.09 L455.92 138.33 L457.35 140.52 L458.80 142.68 L460.26 144.79 L461.74 146.86 L463.24 148.88 L464.76 150.86 L466.29 152.80 L467.84 154.69 L469.40 156.54 L470.98 158.35 L472.58 160.12 L474.20 161.85 L475.83 163.53 L477.48 165.17 L479.14 166.78 L480.82 168.34 L482.52 169.86 L484.23 171.35 L485.96 172.79 L487.71 174.20 L489.47 175.57 L491.25 176.91 L493.04 178.21 L494.85 179.47 L496.67 180.70 L498.51 181.90 L500.37 183.06 L502.24 184.19 L504.13 185.29 L506.03 186.36 L507.94 187.40 L509.88 188.40 L511.82 189.38 L513.79 190.33 L515.77 191.26 L517.76 192.15 L519.77 193.03 L521.79 193.87 L523.83 194.69 L525.88 195.49 L527.95 196.26 L530.03 197.01 L532.13 197.74 L534.24 198.44 L536.37 199.13 L538.51 199.79 L540.67 200.44 L542.84 201.06 L545.03 201.67 L547.23 202.26 L549.44 202.83 L551.67 203.38 L553.91 203.92 L556.17 204.44 L558.44 204.95 L560.73 205.44 L563.03 205.91 L565.34 206.37 L567.67 206.82 L570.01 207.25 L572.37 207.68 L574.74 208.08 L577.13 208.48 L579.52 208.86 L581.94 209.24 L584.36 209.60 L586.80 209.95 L589.26 210.29 L591.73 210.62 L594.21 210.94 L596.70 211.25 L599.21 211.55 L601.74 211.84 L604.27 212.13 L606.82 212.40 L609.39 212.67 L611.96 212.93 L614.55 213.19 L617.16 213.44 L619.77 213.68 L622.40 213.91 L625.05 214.14 L627.71 214.37 L630.38 214.59 L633.06 214.81 L635.76 215.03 L638.47 215.25 L641.19 215.46 L643.93 215.68 L646.68 215.91 L649.44 216.14 L652.22 216.38 L655.01 216.63 L657.81 216.90 L660.63 217.20 L663.46 217.52 L666.30 217.88 L669.15 218.30 L672.02 218.78 L674.90 219.34 L677.79 220.00 L680.70 220.80" stroke="#ff0000" stroke-width="3.10" fill="none" stroke-dasharray="6.5 3 1 3.1" stroke-dashoffset="5"/>
<path d="M408.30 3.00 L408.29 3.18 L408.35 3.58 L408.45 4.13 L408.60 4.82 L408.78 5.64 L409.00 6.58 L409.25 7.63 L409.54 8.79 L409.86 10.03 L410.21 11.37 L410.59 12.80 L411.00 14.31 L411.49 15.87 L412.01 17.51 L412.56 19.22 L413.13 20.99 L413.72 22.83 L414.35 24.72 L414.99 26.67 L415.66 28.66 L416.36 30.71 L417.08 32.79 L417.82 34.92 L418.58 37.09 L419.37 39.30 L420.18 41.53 L421.01 43.80 L421.87 46.09 L422.74 48.40 L423.64 50.74 L424.56 53.10 L425.50 55.47 L426.46 57.86 L427.44 60.25 L428.44 62.66 L429.46 65.08 L430.50 67.50 L431.56 69.92 L432.64 72.35 L433.75 74.77 L434.87 77.19 L436.01 79.61 L437.16 82.02 L438.34 84.43 L439.54 86.82 L440.75 89.20 L441.99 91.57 L443.24 93.93 L444.51 96.27 L445.80 98.60 L447.11 100.91 L448.44 103.20 L449.78 105.47 L451.14 107.71 L452.52 109.94 L453.92 112.15 L455.34 114.33 L456.77 116.48 L458.22 118.61 L459.69 120.72 L461.18 122.80 L462.68 124.85 L464.20 126.87 L465.74 128.87 L467.29 130.83 L468.86 132.77 L470.45 134.68 L472.05 136.56 L473.68 138.41 L475.31 140.23 L476.97 142.01 L478.64 143.77 L480.33 145.50 L482.03 147.19 L483.75 148.86 L485.49 150.49 L487.24 152.10 L489.01 153.67 L490.79 155.21 L492.59 156.72 L494.41 158.20 L496.24 159.65 L498.09 161.07 L499.95 162.46 L501.83 163.83 L503.73 165.16 L505.64 166.46 L507.56 167.73 L509.50 168.97 L511.46 170.19 L513.43 171.38 L515.42 172.54 L517.42 173.67 L519.44 174.78 L521.47 175.85 L523.51 176.91 L525.57 177.93 L527.65 178.94 L529.74 179.91 L531.85 180.86 L533.97 181.79 L536.10 182.70 L538.25 183.58 L540.42 184.44 L542.59 185.27 L544.79 186.08 L546.99 186.88 L549.21 187.65 L551.45 188.40 L553.70 189.13 L555.96 189.84 L558.24 190.53 L560.53 191.21 L562.84 191.86 L565.16 192.50 L567.49 193.12 L569.84 193.72 L572.21 194.30 L574.58 194.87 L576.97 195.43 L579.37 195.96 L581.79 196.49 L584.22 197.00 L586.67 197.49 L589.13 197.97 L591.60 198.44 L594.08 198.90 L596.58 199.34 L599.10 199.77 L601.62 200.19 L604.16 200.60 L606.71 201.00 L609.28 201.39 L611.86 201.77 L614.45 202.14 L617.06 202.51 L619.68 202.86 L622.31 203.22 L624.96 203.57 L627.62 203.91 L630.29 204.26 L632.97 204.61 L635.67 204.96 L638.38 205.32 L641.10 205.70 L643.83 206.09 L646.57 206.51 L649.33 206.96 L652.09 207.46 L654.86 208.02 L657.64 208.66 L660.43 209.40 L663.23 210.27 L666.03 211.31 L668.84 212.56 L671.66 214.09 L674.48 215.97 L677.32 218.32 L680.20 221.29" stroke="#000000" stroke-width="3.10" fill="none" stroke-dasharray="7 5" stroke-dashoffset="0"/>
<path d="M408.30 3.00 L408.35 3.17 L408.46 3.54 L408.62 4.08 L408.82 4.76 L409.06 5.56 L409.34 6.48 L409.65 7.51 L409.99 8.65 L410.37 9.88 L410.77 11.20 L411.21 12.61 L411.67 14.10 L412.16 15.66 L412.68 17.30 L413.22 19.01 L413.79 20.78 L414.39 22.61 L415.01 24.50 L415.66 26.44 L416.33 28.44 L417.02 30.48 L417.74 32.57 L418.48 34.69 L419.24 36.86 L420.03 39.06 L420.84 41.29 L421.67 43.55 L422.52 45.84 L423.40 48.15 L424.29 50.49 L425.21 52.84 L426.15 55.21 L427.11 57.59 L428.09 59.99 L429.08 62.39 L430.10 64.80 L431.14 67.22 L432.20 69.64 L433.28 72.06 L434.38 74.48 L435.50 76.90 L436.64 79.31 L437.79 81.72 L438.97 84.12 L440.16 86.50 L441.38 88.88 L442.61 91.25 L443.86 93.60 L445.13 95.94 L446.41 98.26 L447.72 100.56 L449.04 102.84 L450.38 105.11 L451.74 107.35 L453.12 109.57 L454.51 111.77 L455.92 113.94 L457.35 116.09 L458.80 118.22 L460.26 120.31 L461.74 122.39 L463.24 124.43 L464.76 126.45 L466.29 128.44 L467.84 130.40 L469.40 132.33 L470.98 134.23 L472.58 136.10 L474.20 137.94 L475.83 139.75 L477.48 141.54 L479.14 143.29 L480.82 145.01 L482.52 146.70 L484.23 148.35 L485.96 149.98 L487.71 151.58 L489.47 153.14 L491.25 154.68 L493.04 156.18 L494.85 157.66 L496.67 159.10 L498.51 160.52 L500.37 161.90 L502.24 163.26 L504.13 164.58 L506.03 165.88 L507.94 167.14 L509.88 168.38 L511.82 169.59 L513.79 170.78 L515.77 171.93 L517.76 173.06 L519.77 174.16 L521.79 175.23 L523.83 176.28 L525.88 177.31 L527.95 178.30 L530.03 179.28 L532.13 180.22 L534.24 181.15 L536.37 182.05 L538.51 182.93 L540.67 183.78 L542.84 184.62 L545.03 185.43 L547.23 186.22 L549.44 186.99 L551.67 187.73 L553.91 188.46 L556.17 189.17 L558.44 189.86 L560.73 190.53 L563.03 191.19 L565.34 191.82 L567.67 192.44 L570.01 193.04 L572.37 193.62 L574.74 194.19 L577.13 194.74 L579.52 195.28 L581.94 195.80 L584.36 196.31 L586.80 196.80 L589.26 197.29 L591.73 197.75 L594.21 198.21 L596.70 198.65 L599.21 199.08 L601.74 199.50 L604.27 199.91 L606.82 200.31 L609.39 200.70 L611.96 201.08 L614.55 201.45 L617.16 201.81 L619.77 202.17 L622.40 202.52 L625.05 202.87 L627.71 203.22 L630.38 203.57 L633.06 203.91 L635.76 204.27 L638.47 204.63 L641.19 205.01 L643.93 205.40 L646.68 205.82 L649.44 206.27 L652.22 206.78 L655.01 207.34 L657.81 207.98 L660.63 208.73 L663.46 209.61 L666.30 210.66 L669.15 211.93 L672.02 213.49 L674.90 215.41 L677.79 217.80 L680.70 220.80" stroke="#ff0000" stroke-width="3.10" fill="none" stroke-dasharray="6.5 3 1 3.1" stroke-dashoffset="5"/>
<path d="M408.30 3.00 L408.29 3.15 L408.35 3.47 L408.45 3.91 L408.60 4.46 L408.79 5.11 L409.01 5.85 L409.26 6.68 L409.55 7.59 L409.87 8.58 L410.22 9.64 L410.60 10.77 L411.02 11.97 L411.51 13.20 L412.03 14.50 L412.57 15.85 L413.15 17.26 L413.74 18.72 L414.36 20.22 L415.01 21.78 L415.68 23.37 L416.38 25.01 L417.10 26.69 L417.84 28.40 L418.60 30.15 L419.39 31.93 L420.20 33.74 L421.03 35.58 L421.89 37.44 L422.76 39.33 L423.66 41.25 L424.58 43.18 L425.52 45.14 L426.48 47.11 L427.46 49.09 L428.46 51.09 L429.48 53.10 L430.52 55.13 L431.58 57.16 L432.67 59.20 L433.77 61.24 L434.89 63.29 L436.03 65.35 L437.19 67.40 L438.36 69.46 L439.56 71.52 L440.78 73.57 L442.01 75.62 L443.26 77.67 L444.53 79.71 L445.82 81.75 L447.13 83.78 L448.46 85.80 L449.80 87.81 L451.16 89.81 L452.54 91.80 L453.94 93.78 L455.36 95.74 L456.79 97.70 L458.24 99.63 L459.71 101.56 L461.19 103.46 L462.70 105.36 L464.21 107.23 L465.75 109.09 L467.30 110.93 L468.87 112.75 L470.46 114.55 L472.07 116.33 L473.69 118.10 L475.32 119.84 L476.98 121.57 L478.65 123.27 L480.33 124.95 L482.03 126.61 L483.75 128.25 L485.49 129.87 L487.24 131.47 L489.01 133.04 L490.79 134.59 L492.59 136.12 L494.40 137.63 L496.23 139.12 L498.08 140.58 L499.94 142.02 L501.82 143.44 L503.71 144.83 L505.62 146.21 L507.55 147.56 L509.48 148.89 L511.44 150.20 L513.41 151.48 L515.39 152.74 L517.39 153.98 L519.41 155.20 L521.44 156.40 L523.48 157.58 L525.54 158.73 L527.62 159.87 L529.71 160.98 L531.81 162.07 L533.93 163.15 L536.07 164.20 L538.21 165.23 L540.38 166.24 L542.55 167.23 L544.75 168.21 L546.95 169.16 L549.17 170.10 L551.41 171.01 L553.66 171.91 L555.92 172.79 L558.20 173.66 L560.49 174.50 L562.79 175.33 L565.11 176.14 L567.45 176.94 L569.80 177.72 L572.16 178.48 L574.53 179.23 L576.92 179.96 L579.33 180.67 L581.74 181.38 L584.18 182.06 L586.62 182.74 L589.08 183.40 L591.55 184.04 L594.04 184.67 L596.54 185.29 L599.05 185.90 L601.58 186.50 L604.12 187.08 L606.67 187.66 L609.24 188.22 L611.82 188.78 L614.41 189.32 L617.02 189.86 L619.64 190.39 L622.27 190.92 L624.91 191.44 L627.57 191.97 L630.24 192.49 L632.92 193.02 L635.62 193.56 L638.33 194.12 L641.04 194.70 L643.77 195.31 L646.51 195.96 L649.26 196.68 L652.02 197.47 L654.78 198.36 L657.55 199.38 L660.33 200.58 L663.11 202.01 L665.90 203.73 L668.70 205.83 L671.52 208.44 L674.35 211.71 L677.20 215.84 L680.09 221.14" stroke="#000000" stroke-width="3.10" fill="none" stroke-dasharray="7 5" stroke-dashoffset="0"/>
<path d="M408.30 3.00 L408.35 3.13 L408.46 3.42 L408.62 3.84 L408.82 4.37 L409.06 5.00 L409.34 5.72 L409.65 6.53 L409.99 7.42 L410.37 8.39 L410.77 9.43 L411.21 10.54 L411.67 11.71 L412.16 12.94 L412.68 14.24 L413.22 15.59 L413.79 17.00 L414.39 18.45 L415.01 19.96 L415.66 21.51 L416.33 23.10 L417.02 24.74 L417.74 26.41 L418.48 28.12 L419.24 29.87 L420.03 31.64 L420.84 33.45 L421.67 35.29 L422.52 37.15 L423.40 39.04 L424.29 40.95 L425.21 42.88 L426.15 44.83 L427.11 46.80 L428.09 48.78 L429.08 50.78 L430.10 52.78 L431.14 54.80 L432.20 56.83 L433.28 58.87 L434.38 60.91 L435.50 62.96 L436.64 65.01 L437.79 67.06 L438.97 69.11 L440.16 71.16 L441.38 73.21 L442.61 75.26 L443.86 77.30 L445.13 79.34 L446.41 81.37 L447.72 83.40 L449.04 85.41 L450.38 87.42 L451.74 89.41 L453.12 91.40 L454.51 93.37 L455.92 95.33 L457.35 97.28 L458.80 99.21 L460.26 101.13 L461.74 103.03 L463.24 104.92 L464.76 106.79 L466.29 108.64 L467.84 110.47 L469.40 112.29 L470.98 114.09 L472.58 115.86 L474.20 117.62 L475.83 119.36 L477.48 121.08 L479.14 122.78 L480.82 124.45 L482.52 126.11 L484.23 127.74 L485.96 129.35 L487.71 130.95 L489.47 132.51 L491.25 134.06 L493.04 135.59 L494.85 137.09 L496.67 138.57 L498.51 140.03 L500.37 141.46 L502.24 142.88 L504.13 144.27 L506.03 145.64 L507.94 146.98 L509.88 148.31 L511.82 149.61 L513.79 150.89 L515.77 152.15 L517.76 153.39 L519.77 154.60 L521.79 155.80 L523.83 156.97 L525.88 158.12 L527.95 159.25 L530.03 160.36 L532.13 161.45 L534.24 162.52 L536.37 163.57 L538.51 164.60 L540.67 165.61 L542.84 166.60 L545.03 167.57 L547.23 168.52 L549.44 169.45 L551.67 170.37 L553.91 171.26 L556.17 172.14 L558.44 173.00 L560.73 173.84 L563.03 174.67 L565.34 175.48 L567.67 176.27 L570.01 177.05 L572.37 177.81 L574.74 178.56 L577.13 179.29 L579.52 180.00 L581.94 180.70 L584.36 181.39 L586.80 182.06 L589.26 182.72 L591.73 183.36 L594.21 184.00 L596.70 184.61 L599.21 185.22 L601.74 185.82 L604.27 186.40 L606.82 186.97 L609.39 187.54 L611.96 188.09 L614.55 188.64 L617.16 189.17 L619.77 189.71 L622.40 190.23 L625.05 190.76 L627.71 191.28 L630.38 191.80 L633.06 192.34 L635.76 192.88 L638.47 193.43 L641.19 194.02 L643.93 194.63 L646.68 195.29 L649.44 196.00 L652.22 196.80 L655.01 197.70 L657.81 198.73 L660.63 199.95 L663.46 201.40 L666.30 203.15 L669.15 205.29 L672.02 207.95 L674.90 211.28 L677.79 215.47 L680.70 220.80" stroke="#ff0000" stroke-width="3.10" fill="none" stroke-dasharray="6.5 3 1 3.1" stroke-dashoffset="5"/>
</g>

<rect x="545.3" y="7.6" width="130.5" height="48.5" fill="#fff" stroke="#222" stroke-width="1.1"/>
<line x1="551.0" y1="16.8" x2="583.0" y2="16.8" stroke="#1f3cff" stroke-width="3"/>
<line x1="551.0" y1="31.9" x2="583.0" y2="31.9" stroke="#000000" stroke-width="2.6" stroke-dasharray="7 5"/>
<line x1="551.0" y1="47.1" x2="583.0" y2="47.1" stroke="#ff0000" stroke-width="2.6" stroke-dasharray="1.2 3 6.5 3"/>
<text x="586.3" y="21.1" font-size="14.5" font-weight="bold">momo NF</text>
<text x="586.3" y="36.2" font-size="14.5" font-weight="bold">hybrid NF</text>
<text x="586.3" y="51.5" font-size="14.5" font-weight="bold">tri−hybrid NF</text>

<text transform="translate(405.10 225.10) scale(1.050 1)" font-size="13.30" font-weight="bold" font-style="normal" text-anchor="end" fill="#000" >0</text>

<text transform="translate(405.10 181.54) scale(1.050 1)" font-size="13.30" font-weight="bold" font-style="normal" text-anchor="end" fill="#000" >0.2</text>

<text transform="translate(405.10 137.98) scale(1.050 1)" font-size="13.30" font-weight="bold" font-style="normal" text-anchor="end" fill="#000" >0.4</text>

<text transform="translate(405.10 94.42) scale(1.050 1)" font-size="13.30" font-weight="bold" font-style="normal" text-anchor="end" fill="#000" >0.6</text>

<text transform="translate(405.10 50.86) scale(1.050 1)" font-size="13.30" font-weight="bold" font-style="normal" text-anchor="end" fill="#000" >0.8</text>

<text transform="translate(408.30 235.60) scale(1.050 1)" font-size="13.30" font-weight="bold" font-style="normal" text-anchor="middle" fill="#000" >0</text>

<text transform="translate(476.40 235.60) scale(1.050 1)" font-size="13.30" font-weight="bold" font-style="normal" text-anchor="middle" fill="#000" >1</text>

<text transform="translate(544.50 235.60) scale(1.050 1)" font-size="13.30" font-weight="bold" font-style="normal" text-anchor="middle" fill="#000" >2</text>

<text transform="translate(612.60 235.60) scale(1.050 1)" font-size="13.30" font-weight="bold" font-style="normal" text-anchor="middle" fill="#000" >3</text>

<text transform="translate(680.70 235.60) scale(1.050 1)" font-size="13.30" font-weight="bold" font-style="normal" text-anchor="middle" fill="#000" >4</text>

<g transform="translate(540.20 238.20) scale(1.070 0.930)" fill="none" stroke="#111" stroke-linecap="round"><path d="M1.0 0.7 C1.5 2.5 1.9 4.4 2.3 6.0" stroke-width="1.15"/><path d="M1.6 2.6 C3.0 2.4 4.6 1.7 6.0 1.0" stroke-width="1.0"/><path d="M2.0 6.2 L7.0 6.0" stroke-width="1.15"/><path d="M2.5 6.6 C0.2 7.6 -0.2 11.6 2.0 13.2 C3.6 14.3 7.0 13.1 8.3 14.6 C9.3 15.9 7.4 17.6 5.0 18.2" stroke-width="1.45"/></g>

<text x="533.50" y="277.00" font-size="18.70" font-weight="bold" font-style="normal" text-anchor="middle" fill="#ff0000" >(b)</text>

<text transform="translate(377.30 129.80) rotate(-90)" font-size="20.50" font-weight="bold" >G</text>

<text transform="translate(375.60 115.46) rotate(-90)" font-size="19.50" font-weight="normal" >(</text>

<text transform="translate(375.60 100.60) rotate(-90)" font-size="19.50" font-weight="normal" >)</text>

<g transform="translate(360.70 109.10) rotate(-90) scale(0.860 1.070)"><g transform="translate(0.00 0.00) scale(1.000 1.000)" fill="none" stroke="#111" stroke-linecap="round"><path d="M1.0 0.7 C1.5 2.5 1.9 4.4 2.3 6.0" stroke-width="1.15"/><path d="M1.6 2.6 C3.0 2.4 4.6 1.7 6.0 1.0" stroke-width="1.0"/><path d="M2.0 6.2 L7.0 6.0" stroke-width="1.15"/><path d="M2.5 6.6 C0.2 7.6 -0.2 11.6 2.0 13.2 C3.6 14.3 7.0 13.1 8.3 14.6 C9.3 15.9 7.4 17.6 5.0 18.2" stroke-width="1.45"/></g>
</g>

<text x="534.20" y="134.70" font-size="17.80" font-weight="bold" font-style="italic" text-anchor="start" fill="#000" textLength="101.6" lengthAdjust="spacingAndGlyphs">M=0.5,1,1.5</text>

<line x1="541.3" y1="149.9" x2="481.8" y2="197.5" stroke="#1f3cff" stroke-width="2.3"/>
<polygon points="473.4,204.2 478.6,194.6 484.9,200.4" fill="#1f3cff"/>

<rect x="241.5" y="288.3" width="269.4" height="222.8" fill="none" stroke="#2a2a2a" stroke-width="1.4"/>
<line x1="331.3" y1="511.1" x2="331.3" y2="508.6" stroke="#333" stroke-width="1"/>
<line x1="331.3" y1="288.3" x2="331.3" y2="290.8" stroke="#333" stroke-width="1"/>
<line x1="421.1" y1="511.1" x2="421.1" y2="508.6" stroke="#333" stroke-width="1"/>
<line x1="421.1" y1="288.3" x2="421.1" y2="290.8" stroke="#333" stroke-width="1"/>
<line x1="241.5" y1="436.7" x2="244.0" y2="436.7" stroke="#333" stroke-width="1"/>
<line x1="510.9" y1="436.7" x2="508.4" y2="436.7" stroke="#333" stroke-width="1"/>
<line x1="241.5" y1="362.5" x2="244.0" y2="362.5" stroke="#333" stroke-width="1"/>
<line x1="510.9" y1="362.5" x2="508.4" y2="362.5" stroke="#333" stroke-width="1"/>

<g clip-path="url(#clipc)">
<path d="M241.50 288.30 L241.55 288.61 L241.66 289.32 L241.82 290.33 L242.01 291.60 L242.25 293.10 L242.53 294.82 L242.83 296.73 L243.17 298.82 L243.54 301.09 L243.94 303.50 L244.37 306.06 L244.83 308.75 L245.32 311.56 L245.83 314.48 L246.37 317.50 L246.93 320.62 L247.52 323.81 L248.14 327.08 L248.78 330.42 L249.44 333.81 L250.13 337.25 L250.84 340.73 L251.57 344.25 L252.32 347.79 L253.10 351.35 L253.90 354.93 L254.72 358.51 L255.57 362.10 L256.43 365.68 L257.32 369.24 L258.22 372.80 L259.15 376.33 L260.10 379.84 L261.07 383.31 L262.06 386.76 L263.06 390.16 L264.09 393.53 L265.14 396.85 L266.21 400.12 L267.29 403.34 L268.40 406.51 L269.53 409.62 L270.67 412.67 L271.83 415.66 L273.01 418.59 L274.21 421.46 L275.43 424.26 L276.67 427.00 L277.92 429.67 L279.19 432.26 L280.48 434.80 L281.79 437.26 L283.12 439.65 L284.46 441.97 L285.82 444.22 L287.20 446.41 L288.60 448.52 L290.01 450.56 L291.44 452.54 L292.89 454.44 L294.35 456.28 L295.84 458.05 L297.33 459.76 L298.85 461.40 L300.38 462.98 L301.93 464.49 L303.49 465.95 L305.08 467.34 L306.67 468.67 L308.29 469.94 L309.92 471.16 L311.56 472.32 L313.23 473.43 L314.90 474.48 L316.60 475.48 L318.31 476.43 L320.03 477.34 L321.78 478.19 L323.53 479.00 L325.31 479.77 L327.09 480.49 L328.90 481.17 L330.72 481.81 L332.55 482.41 L334.40 482.98 L336.27 483.51 L338.15 484.00 L340.05 484.46 L341.96 484.89 L343.88 485.29 L345.83 485.66 L347.78 486.00 L349.75 486.31 L351.74 486.60 L353.74 486.86 L355.76 487.10 L357.79 487.32 L359.83 487.51 L361.89 487.69 L363.97 487.84 L366.06 487.98 L368.16 488.10 L370.28 488.20 L372.41 488.29 L374.56 488.36 L376.72 488.42 L378.90 488.46 L381.09 488.50 L383.29 488.52 L385.51 488.53 L387.74 488.53 L389.99 488.52 L392.25 488.50 L394.52 488.47 L396.81 488.43 L399.12 488.39 L401.43 488.34 L403.76 488.28 L406.11 488.22 L408.47 488.15 L410.84 488.08 L413.23 488.00 L415.63 487.92 L418.04 487.84 L420.47 487.75 L422.91 487.66 L425.36 487.56 L427.83 487.46 L430.31 487.36 L432.80 487.26 L435.31 487.16 L437.84 487.06 L440.37 486.95 L442.92 486.84 L445.48 486.73 L448.06 486.63 L450.64 486.52 L453.25 486.41 L455.86 486.30 L458.49 486.19 L461.13 486.08 L463.79 485.97 L466.45 485.86 L469.13 485.75 L471.83 485.64 L474.54 485.53 L477.26 485.43 L479.99 485.32 L482.73 485.22 L485.49 485.11 L488.26 485.01 L491.05 484.91 L493.85 484.80 L496.66 484.70 L499.48 484.61 L502.32 484.51 L505.16 484.41 L508.03 484.32 L510.90 484.22" stroke="#1f3cff" stroke-width="2.70" fill="none"/>
<path d="M241.50 288.30 L241.55 288.54 L241.66 289.08 L241.82 289.86 L242.01 290.83 L242.25 291.99 L242.53 293.31 L242.83 294.79 L243.17 296.41 L243.54 298.16 L243.94 300.04 L244.37 302.03 L244.83 304.13 L245.32 306.33 L245.83 308.63 L246.37 311.02 L246.93 313.48 L247.52 316.02 L248.14 318.63 L248.78 321.30 L249.44 324.02 L250.13 326.80 L250.84 329.63 L251.57 332.49 L252.32 335.39 L253.10 338.32 L253.90 341.28 L254.72 344.26 L255.57 347.25 L256.43 350.26 L257.32 353.28 L258.22 356.30 L259.15 359.32 L260.10 362.34 L261.07 365.35 L262.06 368.35 L263.06 371.34 L264.09 374.31 L265.14 377.27 L266.21 380.20 L267.29 383.10 L268.40 385.98 L269.53 388.83 L270.67 391.65 L271.83 394.43 L273.01 397.18 L274.21 399.89 L275.43 402.56 L276.67 405.20 L277.92 407.78 L279.19 410.33 L280.48 412.83 L281.79 415.29 L283.12 417.69 L284.46 420.05 L285.82 422.37 L287.20 424.63 L288.60 426.84 L290.01 429.01 L291.44 431.12 L292.89 433.19 L294.35 435.20 L295.84 437.16 L297.33 439.08 L298.85 440.94 L300.38 442.75 L301.93 444.51 L303.49 446.22 L305.08 447.88 L306.67 449.50 L308.29 451.06 L309.92 452.58 L311.56 454.04 L313.23 455.47 L314.90 456.84 L316.60 458.17 L318.31 459.45 L320.03 460.69 L321.78 461.89 L323.53 463.04 L325.31 464.15 L327.09 465.22 L328.90 466.25 L330.72 467.24 L332.55 468.19 L334.40 469.10 L336.27 469.97 L338.15 470.81 L340.05 471.62 L341.96 472.39 L343.88 473.12 L345.83 473.83 L347.78 474.50 L349.75 475.14 L351.74 475.76 L353.74 476.34 L355.76 476.90 L357.79 477.42 L359.83 477.93 L361.89 478.40 L363.97 478.86 L366.06 479.29 L368.16 479.69 L370.28 480.08 L372.41 480.44 L374.56 480.78 L376.72 481.10 L378.90 481.40 L381.09 481.69 L383.29 481.96 L385.51 482.21 L387.74 482.44 L389.99 482.66 L392.25 482.86 L394.52 483.05 L396.81 483.23 L399.12 483.39 L401.43 483.54 L403.76 483.68 L406.11 483.81 L408.47 483.92 L410.84 484.03 L413.23 484.12 L415.63 484.21 L418.04 484.29 L420.47 484.35 L422.91 484.41 L425.36 484.47 L427.83 484.51 L430.31 484.55 L432.80 484.59 L435.31 484.61 L437.84 484.63 L440.37 484.65 L442.92 484.66 L445.48 484.66 L448.06 484.66 L450.64 484.66 L453.25 484.65 L455.86 484.64 L458.49 484.63 L461.13 484.61 L463.79 484.59 L466.45 484.56 L469.13 484.54 L471.83 484.51 L474.54 484.48 L477.26 484.44 L479.99 484.41 L482.73 484.37 L485.49 484.33 L488.26 484.29 L491.05 484.25 L493.85 484.21 L496.66 484.16 L499.48 484.12 L502.32 484.07 L505.16 484.03 L508.03 483.98 L510.90 483.93" stroke="#1f3cff" stroke-width="2.70" fill="none"/>
<path d="M241.50 288.30 L241.55 288.50 L241.66 288.95 L241.82 289.60 L242.01 290.42 L242.25 291.39 L242.53 292.50 L242.83 293.74 L243.17 295.10 L243.54 296.58 L243.94 298.17 L244.37 299.85 L244.83 301.63 L245.32 303.50 L245.83 305.45 L246.37 307.49 L246.93 309.59 L247.52 311.76 L248.14 314.00 L248.78 316.30 L249.44 318.65 L250.13 321.05 L250.84 323.49 L251.57 325.98 L252.32 328.51 L253.10 331.07 L253.90 333.67 L254.72 336.29 L255.57 338.93 L256.43 341.59 L257.32 344.27 L258.22 346.97 L259.15 349.67 L260.10 352.38 L261.07 355.10 L262.06 357.81 L263.06 360.53 L264.09 363.24 L265.14 365.94 L266.21 368.64 L267.29 371.32 L268.40 373.99 L269.53 376.64 L270.67 379.28 L271.83 381.89 L273.01 384.49 L274.21 387.06 L275.43 389.60 L276.67 392.12 L277.92 394.61 L279.19 397.07 L280.48 399.50 L281.79 401.90 L283.12 404.26 L284.46 406.59 L285.82 408.88 L287.20 411.14 L288.60 413.36 L290.01 415.54 L291.44 417.68 L292.89 419.79 L294.35 421.85 L295.84 423.87 L297.33 425.86 L298.85 427.80 L300.38 429.70 L301.93 431.56 L303.49 433.38 L305.08 435.16 L306.67 436.89 L308.29 438.59 L309.92 440.24 L311.56 441.85 L313.23 443.42 L314.90 444.95 L316.60 446.44 L318.31 447.89 L320.03 449.30 L321.78 450.66 L323.53 451.99 L325.31 453.28 L327.09 454.54 L328.90 455.75 L330.72 456.93 L332.55 458.07 L334.40 459.17 L336.27 460.24 L338.15 461.27 L340.05 462.27 L341.96 463.24 L343.88 464.17 L345.83 465.07 L347.78 465.94 L349.75 466.77 L351.74 467.58 L353.74 468.35 L355.76 469.10 L357.79 469.82 L359.83 470.51 L361.89 471.17 L363.97 471.81 L366.06 472.42 L368.16 473.01 L370.28 473.57 L372.41 474.11 L374.56 474.62 L376.72 475.12 L378.90 475.59 L381.09 476.04 L383.29 476.47 L385.51 476.88 L387.74 477.27 L389.99 477.64 L392.25 478.00 L394.52 478.34 L396.81 478.66 L399.12 478.96 L401.43 479.25 L403.76 479.53 L406.11 479.79 L408.47 480.04 L410.84 480.27 L413.23 480.49 L415.63 480.70 L418.04 480.90 L420.47 481.08 L422.91 481.26 L425.36 481.42 L427.83 481.58 L430.31 481.72 L432.80 481.86 L435.31 481.99 L437.84 482.10 L440.37 482.22 L442.92 482.32 L445.48 482.42 L448.06 482.51 L450.64 482.59 L453.25 482.67 L455.86 482.74 L458.49 482.81 L461.13 482.87 L463.79 482.92 L466.45 482.97 L469.13 483.02 L471.83 483.06 L474.54 483.10 L477.26 483.14 L479.99 483.17 L482.73 483.19 L485.49 483.22 L488.26 483.24 L491.05 483.26 L493.85 483.28 L496.66 483.29 L499.48 483.30 L502.32 483.31 L505.16 483.32 L508.03 483.33 L510.90 483.33" stroke="#1f3cff" stroke-width="2.70" fill="none"/>
<path d="M241.50 288.30 L241.55 288.63 L241.66 289.36 L241.82 290.40 L242.01 291.72 L242.25 293.28 L242.53 295.06 L242.83 297.04 L243.17 299.21 L243.54 301.55 L243.94 304.06 L244.37 306.70 L244.83 309.48 L245.32 312.39 L245.83 315.41 L246.37 318.53 L246.93 321.74 L247.52 325.04 L248.14 328.40 L248.78 331.84 L249.44 335.33 L250.13 338.86 L250.84 342.44 L251.57 346.05 L252.32 349.68 L253.10 353.33 L253.90 356.99 L254.72 360.65 L255.57 364.32 L256.43 367.97 L257.32 371.61 L258.22 375.23 L259.15 378.83 L260.10 382.39 L261.07 385.92 L262.06 389.42 L263.06 392.87 L264.09 396.28 L265.14 399.64 L266.21 402.94 L267.29 406.19 L268.40 409.39 L269.53 412.52 L270.67 415.59 L271.83 418.60 L273.01 421.54 L274.21 424.42 L275.43 427.22 L276.67 429.96 L277.92 432.62 L279.19 435.22 L280.48 437.74 L281.79 440.19 L283.12 442.57 L284.46 444.88 L285.82 447.11 L287.20 449.28 L288.60 451.37 L290.01 453.39 L291.44 455.34 L292.89 457.22 L294.35 459.03 L295.84 460.78 L297.33 462.45 L298.85 464.06 L300.38 465.61 L301.93 467.09 L303.49 468.51 L305.08 469.87 L306.67 471.17 L308.29 472.42 L309.92 473.60 L311.56 474.73 L313.23 475.80 L314.90 476.82 L316.60 477.80 L318.31 478.72 L320.03 479.59 L321.78 480.41 L323.53 481.19 L325.31 481.93 L327.09 482.63 L328.90 483.28 L330.72 483.89 L332.55 484.47 L334.40 485.00 L336.27 485.51 L338.15 485.98 L340.05 486.41 L341.96 486.82 L343.88 487.19 L345.83 487.53 L347.78 487.85 L349.75 488.14 L351.74 488.41 L353.74 488.65 L355.76 488.86 L357.79 489.06 L359.83 489.23 L361.89 489.39 L363.97 489.52 L366.06 489.64 L368.16 489.73 L370.28 489.81 L372.41 489.88 L374.56 489.93 L376.72 489.97 L378.90 489.99 L381.09 490.00 L383.29 490.00 L385.51 489.98 L387.74 489.96 L389.99 489.92 L392.25 489.88 L394.52 489.83 L396.81 489.76 L399.12 489.69 L401.43 489.61 L403.76 489.53 L406.11 489.44 L408.47 489.34 L410.84 489.23 L413.23 489.12 L415.63 489.01 L418.04 488.89 L420.47 488.76 L422.91 488.63 L425.36 488.50 L427.83 488.36 L430.31 488.22 L432.80 488.08 L435.31 487.94 L437.84 487.79 L440.37 487.63 L442.92 487.48 L445.48 487.32 L448.06 487.17 L450.64 487.01 L453.25 486.85 L455.86 486.68 L458.49 486.52 L461.13 486.35 L463.79 486.19 L466.45 486.02 L469.13 485.85 L471.83 485.68 L474.54 485.51 L477.26 485.34 L479.99 485.17 L482.73 485.00 L485.49 484.83 L488.26 484.65 L491.05 484.48 L493.85 484.31 L496.66 484.14 L499.48 483.96 L502.32 483.79 L505.16 483.62 L508.03 483.44 L510.90 483.27" stroke="#000000" stroke-width="3.10" fill="none" stroke-dasharray="7 5" stroke-dashoffset="0"/>
<path d="M241.50 288.30 L241.55 288.55 L241.66 289.11 L241.82 289.91 L242.01 290.91 L242.25 292.11 L242.53 293.47 L242.83 294.99 L243.17 296.66 L243.54 298.47 L243.94 300.40 L244.37 302.46 L244.83 304.62 L245.32 306.89 L245.83 309.25 L246.37 311.70 L246.93 314.24 L247.52 316.84 L248.14 319.52 L248.78 322.26 L249.44 325.06 L250.13 327.90 L250.84 330.80 L251.57 333.73 L252.32 336.69 L253.10 339.69 L253.90 342.71 L254.72 345.75 L255.57 348.80 L256.43 351.87 L257.32 354.94 L258.22 358.01 L259.15 361.09 L260.10 364.15 L261.07 367.21 L262.06 370.26 L263.06 373.28 L264.09 376.29 L265.14 379.28 L266.21 382.24 L267.29 385.18 L268.40 388.09 L269.53 390.96 L270.67 393.80 L271.83 396.60 L273.01 399.36 L274.21 402.09 L275.43 404.77 L276.67 407.41 L277.92 410.00 L279.19 412.55 L280.48 415.05 L281.79 417.50 L283.12 419.90 L284.46 422.26 L285.82 424.56 L287.20 426.81 L288.60 429.02 L290.01 431.17 L291.44 433.26 L292.89 435.31 L294.35 437.30 L295.84 439.25 L297.33 441.14 L298.85 442.98 L300.38 444.76 L301.93 446.50 L303.49 448.18 L305.08 449.82 L306.67 451.40 L308.29 452.94 L309.92 454.43 L311.56 455.87 L313.23 457.26 L314.90 458.60 L316.60 459.90 L318.31 461.15 L320.03 462.36 L321.78 463.53 L323.53 464.65 L325.31 465.73 L327.09 466.77 L328.90 467.77 L330.72 468.73 L332.55 469.65 L334.40 470.53 L336.27 471.38 L338.15 472.19 L340.05 472.97 L341.96 473.71 L343.88 474.42 L345.83 475.10 L347.78 475.74 L349.75 476.36 L351.74 476.95 L353.74 477.51 L355.76 478.04 L357.79 478.54 L359.83 479.02 L361.89 479.48 L363.97 479.91 L366.06 480.31 L368.16 480.70 L370.28 481.06 L372.41 481.40 L374.56 481.72 L376.72 482.02 L378.90 482.30 L381.09 482.57 L383.29 482.82 L385.51 483.05 L387.74 483.26 L389.99 483.46 L392.25 483.64 L394.52 483.81 L396.81 483.97 L399.12 484.11 L401.43 484.24 L403.76 484.36 L406.11 484.47 L408.47 484.56 L410.84 484.65 L413.23 484.72 L415.63 484.79 L418.04 484.84 L420.47 484.89 L422.91 484.92 L425.36 484.95 L427.83 484.98 L430.31 484.99 L432.80 485.00 L435.31 485.00 L437.84 484.99 L440.37 484.98 L442.92 484.96 L445.48 484.94 L448.06 484.91 L450.64 484.88 L453.25 484.84 L455.86 484.79 L458.49 484.74 L461.13 484.69 L463.79 484.64 L466.45 484.58 L469.13 484.51 L471.83 484.44 L474.54 484.37 L477.26 484.30 L479.99 484.22 L482.73 484.14 L485.49 484.06 L488.26 483.98 L491.05 483.89 L493.85 483.80 L496.66 483.70 L499.48 483.61 L502.32 483.51 L505.16 483.41 L508.03 483.31 L510.90 483.21" stroke="#000000" stroke-width="3.10" fill="none" stroke-dasharray="7 5" stroke-dashoffset="0"/>
<path d="M241.50 288.30 L241.55 288.50 L241.66 288.96 L241.82 289.61 L242.01 290.44 L242.25 291.42 L242.53 292.54 L242.83 293.79 L243.17 295.17 L243.54 296.66 L243.94 298.26 L244.37 299.97 L244.83 301.76 L245.32 303.65 L245.83 305.62 L246.37 307.68 L246.93 309.80 L247.52 312.00 L248.14 314.26 L248.78 316.58 L249.44 318.95 L250.13 321.38 L250.84 323.85 L251.57 326.37 L252.32 328.93 L253.10 331.52 L253.90 334.14 L254.72 336.79 L255.57 339.46 L256.43 342.15 L257.32 344.87 L258.22 347.59 L259.15 350.32 L260.10 353.07 L261.07 355.81 L262.06 358.56 L263.06 361.31 L264.09 364.05 L265.14 366.79 L266.21 369.51 L267.29 372.23 L268.40 374.93 L269.53 377.61 L270.67 380.28 L271.83 382.93 L273.01 385.55 L274.21 388.15 L275.43 390.73 L276.67 393.28 L277.92 395.79 L279.19 398.28 L280.48 400.74 L281.79 403.16 L283.12 405.55 L284.46 407.91 L285.82 410.23 L287.20 412.51 L288.60 414.75 L290.01 416.96 L291.44 419.12 L292.89 421.24 L294.35 423.33 L295.84 425.37 L297.33 427.37 L298.85 429.33 L300.38 431.25 L301.93 433.12 L303.49 434.96 L305.08 436.75 L306.67 438.49 L308.29 440.20 L309.92 441.86 L311.56 443.48 L313.23 445.05 L314.90 446.59 L316.60 448.08 L318.31 449.53 L320.03 450.94 L321.78 452.31 L323.53 453.64 L325.31 454.93 L327.09 456.18 L328.90 457.39 L330.72 458.56 L332.55 459.69 L334.40 460.79 L336.27 461.85 L338.15 462.87 L340.05 463.86 L341.96 464.81 L343.88 465.73 L345.83 466.61 L347.78 467.46 L349.75 468.28 L351.74 469.07 L353.74 469.82 L355.76 470.55 L357.79 471.25 L359.83 471.91 L361.89 472.55 L363.97 473.17 L366.06 473.75 L368.16 474.31 L370.28 474.85 L372.41 475.36 L374.56 475.85 L376.72 476.31 L378.90 476.75 L381.09 477.17 L383.29 477.57 L385.51 477.95 L387.74 478.31 L389.99 478.65 L392.25 478.97 L394.52 479.28 L396.81 479.57 L399.12 479.84 L401.43 480.09 L403.76 480.33 L406.11 480.56 L408.47 480.77 L410.84 480.97 L413.23 481.16 L415.63 481.33 L418.04 481.49 L420.47 481.64 L422.91 481.78 L425.36 481.91 L427.83 482.03 L430.31 482.14 L432.80 482.24 L435.31 482.33 L437.84 482.41 L440.37 482.49 L442.92 482.56 L445.48 482.62 L448.06 482.67 L450.64 482.72 L453.25 482.76 L455.86 482.80 L458.49 482.83 L461.13 482.86 L463.79 482.88 L466.45 482.90 L469.13 482.91 L471.83 482.92 L474.54 482.93 L477.26 482.93 L479.99 482.93 L482.73 482.93 L485.49 482.92 L488.26 482.91 L491.05 482.90 L493.85 482.89 L496.66 482.87 L499.48 482.86 L502.32 482.84 L505.16 482.82 L508.03 482.80 L510.90 482.77" stroke="#000000" stroke-width="3.10" fill="none" stroke-dasharray="7 5" stroke-dashoffset="0"/>
<path d="M241.50 288.30 L241.55 288.58 L241.66 289.21 L241.82 290.11 L242.01 291.25 L242.25 292.59 L242.53 294.13 L242.83 295.85 L243.17 297.73 L243.54 299.76 L243.94 301.93 L244.37 304.23 L244.83 306.66 L245.32 309.19 L245.83 311.83 L246.37 314.57 L246.93 317.39 L247.52 320.29 L248.14 323.26 L248.78 326.29 L249.44 329.39 L250.13 332.53 L250.84 335.72 L251.57 338.94 L252.32 342.19 L253.10 345.47 L253.90 348.77 L254.72 352.08 L255.57 355.40 L256.43 358.72 L257.32 362.04 L258.22 365.36 L259.15 368.66 L260.10 371.95 L261.07 375.21 L262.06 378.46 L263.06 381.67 L264.09 384.86 L265.14 388.01 L266.21 391.13 L267.29 394.21 L268.40 397.24 L269.53 400.23 L270.67 403.17 L271.83 406.07 L273.01 408.91 L274.21 411.70 L275.43 414.43 L276.67 417.11 L277.92 419.73 L279.19 422.30 L280.48 424.80 L281.79 427.25 L283.12 429.63 L284.46 431.96 L285.82 434.22 L287.20 436.42 L288.60 438.56 L290.01 440.64 L291.44 442.66 L292.89 444.61 L294.35 446.51 L295.84 448.34 L297.33 450.11 L298.85 451.83 L300.38 453.48 L301.93 455.08 L303.49 456.62 L305.08 458.10 L306.67 459.52 L308.29 460.90 L309.92 462.21 L311.56 463.48 L313.23 464.69 L314.90 465.85 L316.60 466.96 L318.31 468.02 L320.03 469.03 L321.78 470.00 L323.53 470.93 L325.31 471.80 L327.09 472.64 L328.90 473.43 L330.72 474.19 L332.55 474.90 L334.40 475.58 L336.27 476.22 L338.15 476.83 L340.05 477.40 L341.96 477.93 L343.88 478.44 L345.83 478.91 L347.78 479.35 L349.75 479.77 L351.74 480.16 L353.74 480.52 L355.76 480.86 L357.79 481.17 L359.83 481.46 L361.89 481.72 L363.97 481.97 L366.06 482.19 L368.16 482.40 L370.28 482.58 L372.41 482.75 L374.56 482.90 L376.72 483.04 L378.90 483.16 L381.09 483.26 L383.29 483.35 L385.51 483.43 L387.74 483.50 L389.99 483.55 L392.25 483.60 L394.52 483.63 L396.81 483.66 L399.12 483.67 L401.43 483.68 L403.76 483.67 L406.11 483.67 L408.47 483.65 L410.84 483.63 L413.23 483.60 L415.63 483.56 L418.04 483.52 L420.47 483.48 L422.91 483.43 L425.36 483.37 L427.83 483.32 L430.31 483.26 L432.80 483.19 L435.31 483.13 L437.84 483.06 L440.37 482.98 L442.92 482.91 L445.48 482.84 L448.06 482.76 L450.64 482.68 L453.25 482.60 L455.86 482.52 L458.49 482.44 L461.13 482.36 L463.79 482.27 L466.45 482.19 L469.13 482.11 L471.83 482.03 L474.54 481.94 L477.26 481.86 L479.99 481.78 L482.73 481.70 L485.49 481.61 L488.26 481.53 L491.05 481.45 L493.85 481.37 L496.66 481.29 L499.48 481.21 L502.32 481.14 L505.16 481.06 L508.03 480.98 L510.90 480.91" stroke="#ff0000" stroke-width="2.60" fill="none" stroke-dasharray="6.5 3 1 3.1" stroke-dashoffset="5"/>
<path d="M241.50 288.30 L241.55 288.52 L241.66 289.02 L241.82 289.74 L242.01 290.64 L242.25 291.71 L242.53 292.94 L242.83 294.31 L243.17 295.81 L243.54 297.44 L243.94 299.19 L244.37 301.04 L244.83 303.00 L245.32 305.05 L245.83 307.20 L246.37 309.43 L246.93 311.73 L247.52 314.11 L248.14 316.55 L248.78 319.06 L249.44 321.62 L250.13 324.24 L250.84 326.90 L251.57 329.60 L252.32 332.34 L253.10 335.12 L253.90 337.92 L254.72 340.75 L255.57 343.59 L256.43 346.46 L257.32 349.34 L258.22 352.22 L259.15 355.11 L260.10 358.01 L261.07 360.90 L262.06 363.79 L263.06 366.67 L264.09 369.54 L265.14 372.40 L266.21 375.24 L267.29 378.06 L268.40 380.86 L269.53 383.64 L270.67 386.39 L271.83 389.11 L273.01 391.81 L274.21 394.47 L275.43 397.10 L276.67 399.69 L277.92 402.25 L279.19 404.77 L280.48 407.25 L281.79 409.69 L283.12 412.09 L284.46 414.44 L285.82 416.75 L287.20 419.02 L288.60 421.24 L290.01 423.42 L291.44 425.55 L292.89 427.63 L294.35 429.67 L295.84 431.65 L297.33 433.59 L298.85 435.49 L300.38 437.33 L301.93 439.13 L303.49 440.88 L305.08 442.58 L306.67 444.24 L308.29 445.84 L309.92 447.40 L311.56 448.92 L313.23 450.38 L314.90 451.81 L316.60 453.18 L318.31 454.51 L320.03 455.80 L321.78 457.05 L323.53 458.25 L325.31 459.41 L327.09 460.52 L328.90 461.60 L330.72 462.64 L332.55 463.63 L334.40 464.59 L336.27 465.51 L338.15 466.39 L340.05 467.24 L341.96 468.05 L343.88 468.83 L345.83 469.58 L347.78 470.29 L349.75 470.97 L351.74 471.61 L353.74 472.23 L355.76 472.82 L357.79 473.38 L359.83 473.91 L361.89 474.42 L363.97 474.90 L366.06 475.35 L368.16 475.78 L370.28 476.19 L372.41 476.58 L374.56 476.94 L376.72 477.28 L378.90 477.60 L381.09 477.90 L383.29 478.18 L385.51 478.45 L387.74 478.70 L389.99 478.93 L392.25 479.14 L394.52 479.34 L396.81 479.53 L399.12 479.70 L401.43 479.86 L403.76 480.00 L406.11 480.13 L408.47 480.26 L410.84 480.37 L413.23 480.47 L415.63 480.56 L418.04 480.64 L420.47 480.71 L422.91 480.77 L425.36 480.83 L427.83 480.88 L430.31 480.92 L432.80 480.95 L435.31 480.98 L437.84 481.00 L440.37 481.02 L442.92 481.03 L445.48 481.04 L448.06 481.04 L450.64 481.04 L453.25 481.03 L455.86 481.02 L458.49 481.01 L461.13 480.99 L463.79 480.97 L466.45 480.95 L469.13 480.93 L471.83 480.90 L474.54 480.88 L477.26 480.85 L479.99 480.82 L482.73 480.78 L485.49 480.75 L488.26 480.72 L491.05 480.68 L493.85 480.65 L496.66 480.61 L499.48 480.57 L502.32 480.53 L505.16 480.50 L508.03 480.46 L510.90 480.42" stroke="#ff0000" stroke-width="2.60" fill="none" stroke-dasharray="6.5 3 1 3.1" stroke-dashoffset="5"/>
<path d="M241.50 288.30 L241.55 288.47 L241.66 288.84 L241.82 289.38 L242.01 290.05 L242.25 290.86 L242.53 291.78 L242.83 292.82 L243.17 293.96 L243.54 295.20 L243.94 296.54 L244.37 297.97 L244.83 299.48 L245.32 301.07 L245.83 302.74 L246.37 304.49 L246.93 306.31 L247.52 308.19 L248.14 310.14 L248.78 312.15 L249.44 314.22 L250.13 316.34 L250.84 318.52 L251.57 320.74 L252.32 323.01 L253.10 325.32 L253.90 327.68 L254.72 330.06 L255.57 332.48 L256.43 334.93 L257.32 337.41 L258.22 339.92 L259.15 342.44 L260.10 344.99 L261.07 347.55 L262.06 350.12 L263.06 352.70 L264.09 355.29 L265.14 357.89 L266.21 360.49 L267.29 363.09 L268.40 365.69 L269.53 368.28 L270.67 370.87 L271.83 373.44 L273.01 376.01 L274.21 378.56 L275.43 381.09 L276.67 383.61 L277.92 386.11 L279.19 388.59 L280.48 391.04 L281.79 393.46 L283.12 395.87 L284.46 398.24 L285.82 400.58 L287.20 402.89 L288.60 405.17 L290.01 407.42 L291.44 409.63 L292.89 411.80 L294.35 413.94 L295.84 416.04 L297.33 418.10 L298.85 420.13 L300.38 422.11 L301.93 424.06 L303.49 425.96 L305.08 427.82 L306.67 429.65 L308.29 431.43 L309.92 433.17 L311.56 434.86 L313.23 436.52 L314.90 438.13 L316.60 439.70 L318.31 441.23 L320.03 442.72 L321.78 444.17 L323.53 445.58 L325.31 446.95 L327.09 448.27 L328.90 449.56 L330.72 450.81 L332.55 452.02 L334.40 453.19 L336.27 454.33 L338.15 455.42 L340.05 456.48 L341.96 457.51 L343.88 458.50 L345.83 459.45 L347.78 460.38 L349.75 461.27 L351.74 462.12 L353.74 462.95 L355.76 463.74 L357.79 464.51 L359.83 465.24 L361.89 465.95 L363.97 466.63 L366.06 467.28 L368.16 467.91 L370.28 468.51 L372.41 469.08 L374.56 469.64 L376.72 470.16 L378.90 470.67 L381.09 471.16 L383.29 471.62 L385.51 472.06 L387.74 472.49 L389.99 472.89 L392.25 473.28 L394.52 473.65 L396.81 474.00 L399.12 474.33 L401.43 474.65 L403.76 474.96 L406.11 475.25 L408.47 475.52 L410.84 475.78 L413.23 476.03 L415.63 476.27 L418.04 476.50 L420.47 476.71 L422.91 476.91 L425.36 477.11 L427.83 477.29 L430.31 477.46 L432.80 477.63 L435.31 477.78 L437.84 477.93 L440.37 478.07 L442.92 478.20 L445.48 478.33 L448.06 478.44 L450.64 478.56 L453.25 478.66 L455.86 478.76 L458.49 478.86 L461.13 478.94 L463.79 479.03 L466.45 479.11 L469.13 479.18 L471.83 479.25 L474.54 479.32 L477.26 479.38 L479.99 479.44 L482.73 479.49 L485.49 479.54 L488.26 479.59 L491.05 479.64 L493.85 479.68 L496.66 479.72 L499.48 479.76 L502.32 479.79 L505.16 479.83 L508.03 479.86 L510.90 479.89" stroke="#ff0000" stroke-width="2.60" fill="none" stroke-dasharray="6.5 3 1 3.1" stroke-dashoffset="5"/>
</g>

<rect x="373.3" y="293.3" width="132.3" height="50.4" fill="#fff" stroke="#222" stroke-width="1.1"/>
<line x1="379.2" y1="302.1" x2="411.6" y2="302.1" stroke="#1f3cff" stroke-width="3"/>
<line x1="379.2" y1="318.3" x2="411.6" y2="318.3" stroke="#000000" stroke-width="2.6" stroke-dasharray="7 5"/>
<line x1="379.2" y1="333.6" x2="411.6" y2="333.6" stroke="#ff0000" stroke-width="2.6" stroke-dasharray="1.2 3 6.5 3"/>
<text x="414.3" y="306.5" font-size="14.6" font-weight="bold">momo NF</text>
<text x="414.3" y="322.7" font-size="14.6" font-weight="bold">hybrid NF</text>
<text x="414.3" y="338.0" font-size="14.6" font-weight="bold">tri−hybrid NF</text>

<text transform="translate(237.90 292.20) scale(1.050 1)" font-size="13.30" font-weight="bold" font-style="normal" text-anchor="end" fill="#000" >1</text>

<text transform="translate(237.90 367.80) scale(1.050 1)" font-size="13.30" font-weight="bold" font-style="normal" text-anchor="end" fill="#000" >0.6</text>

<text transform="translate(237.90 442.00) scale(1.050 1)" font-size="13.30" font-weight="bold" font-style="normal" text-anchor="end" fill="#000" >0.2</text>

<text transform="translate(237.90 517.00) scale(1.050 1)" font-size="13.30" font-weight="bold" font-style="normal" text-anchor="end" fill="#000" >−0.2</text>

<text transform="translate(241.50 526.80) scale(1.080 1)" font-size="13.90" font-weight="bold" font-style="normal" text-anchor="middle" fill="#000" >0</text>

<text transform="translate(331.30 526.80) scale(1.080 1)" font-size="13.90" font-weight="bold" font-style="normal" text-anchor="middle" fill="#000" >0.4</text>

<text transform="translate(421.10 526.80) scale(1.080 1)" font-size="13.90" font-weight="bold" font-style="normal" text-anchor="middle" fill="#000" >0.8</text>

<text transform="translate(510.90 526.80) scale(1.080 1)" font-size="13.90" font-weight="bold" font-style="normal" text-anchor="middle" fill="#000" >1.2</text>

<g transform="translate(371.60 529.00) scale(1.000 0.990)" fill="none" stroke="#111" stroke-linecap="round"><path d="M1.0 0.7 C1.5 2.5 1.9 4.4 2.3 6.0" stroke-width="1.15"/><path d="M1.6 2.6 C3.0 2.4 4.6 1.7 6.0 1.0" stroke-width="1.0"/><path d="M2.0 6.2 L7.0 6.0" stroke-width="1.15"/><path d="M2.5 6.6 C0.2 7.6 -0.2 11.6 2.0 13.2 C3.6 14.3 7.0 13.1 8.3 14.6 C9.3 15.9 7.4 17.6 5.0 18.2" stroke-width="1.45"/></g>

<text x="354.50" y="568.80" font-size="19.50" font-weight="bold" font-style="normal" text-anchor="middle" fill="#ff0000" >(c)</text>

<text transform="translate(202.00 415.50) rotate(-90)" font-size="21.20" font-weight="normal" stroke="#000" stroke-width="0.3">θ</text>

<text transform="translate(200.90 404.50) rotate(-90)" font-size="19.20" font-weight="normal" >(</text>

<text transform="translate(200.90 390.40) rotate(-90)" font-size="19.20" font-weight="normal" >)</text>

<g transform="translate(185.80 398.80) rotate(-90) scale(0.900 1.080)"><g transform="translate(0.00 0.00) scale(1.000 1.000)" fill="none" stroke="#111" stroke-linecap="round"><path d="M1.0 0.7 C1.5 2.5 1.9 4.4 2.3 6.0" stroke-width="1.15"/><path d="M1.6 2.6 C3.0 2.4 4.6 1.7 6.0 1.0" stroke-width="1.0"/><path d="M2.0 6.2 L7.0 6.0" stroke-width="1.15"/><path d="M2.5 6.6 C0.2 7.6 -0.2 11.6 2.0 13.2 C3.6 14.3 7.0 13.1 8.3 14.6 C9.3 15.9 7.4 17.6 5.0 18.2" stroke-width="1.45"/></g>
</g>

<text x="364.60" y="411.90" font-size="17.50" font-weight="bold" font-style="italic" text-anchor="start" fill="#000" textLength="101.6" lengthAdjust="spacingAndGlyphs">M=0.5,1,1.5</text>

<line x1="292.6" y1="488.3" x2="351.3" y2="447.0" stroke="#1f3cff" stroke-width="2.3"/>
<polygon points="360.6,441.2 348.8,443.8 353.8,450.1" fill="#1f3cff"/>

</g>
</svg>
</body></html>
